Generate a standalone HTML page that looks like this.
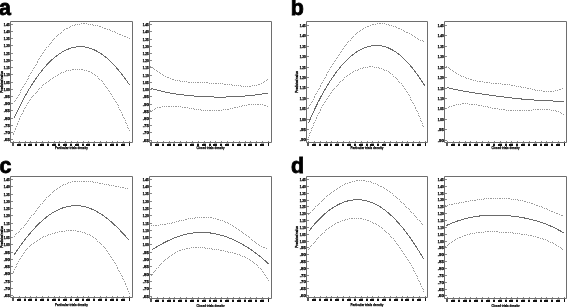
<!DOCTYPE html><html><head><meta charset="utf-8"><style>html,body{margin:0;padding:0;background:#fff;}svg{display:block;filter:grayscale(1);}text{font-family:"Liberation Sans",sans-serif;}.yl{font-size:3.2px;font-weight:bold;fill:#000;stroke:#000;stroke-width:0.25px;}.xl{font-size:3.3px;font-weight:bold;text-anchor:middle;fill:#000;stroke:#000;stroke-width:0.15px;}</style></head><body>
<svg width="567" height="307" viewBox="0 0 567 307">
<rect width="567" height="307" fill="#fff"/>
<text x="-1.10" y="15.40" font-size="21.40" font-weight="bold" fill="#000" stroke="#000" stroke-width="0.80">a</text>
<text x="290.80" y="15.30" font-size="21.40" font-weight="bold" fill="#000" stroke="#000" stroke-width="0.80">b</text>
<text x="-0.60" y="173.30" font-size="21.40" font-weight="bold" fill="#000" stroke="#000" stroke-width="0.80">c</text>
<text x="291.10" y="173.10" font-size="21.40" font-weight="bold" fill="#000" stroke="#000" stroke-width="0.80">d</text>
<g><path d="M10.5 21.5H132.5V142.5H10.5Z" fill="none" stroke="#6e6e6e" stroke-width="1"/><text x="3.80" y="25.60" class="yl" textLength="6.0" lengthAdjust="spacingAndGlyphs">1.45</text><text x="3.80" y="32.60" class="yl" textLength="6.0" lengthAdjust="spacingAndGlyphs">1.40</text><text x="3.80" y="39.60" class="yl" textLength="6.0" lengthAdjust="spacingAndGlyphs">1.35</text><text x="3.80" y="46.60" class="yl" textLength="6.0" lengthAdjust="spacingAndGlyphs">1.30</text><text x="3.80" y="54.60" class="yl" textLength="6.0" lengthAdjust="spacingAndGlyphs">1.25</text><text x="3.80" y="61.60" class="yl" textLength="6.0" lengthAdjust="spacingAndGlyphs">1.20</text><text x="3.80" y="68.60" class="yl" textLength="6.0" lengthAdjust="spacingAndGlyphs">1.15</text><text x="3.80" y="75.60" class="yl" textLength="6.0" lengthAdjust="spacingAndGlyphs">1.10</text><text x="3.80" y="83.60" class="yl" textLength="6.0" lengthAdjust="spacingAndGlyphs">1.05</text><text x="3.80" y="90.60" class="yl" textLength="6.0" lengthAdjust="spacingAndGlyphs">1.00</text><text x="3.80" y="97.60" class="yl" textLength="6.0" lengthAdjust="spacingAndGlyphs">.95</text><text x="3.80" y="104.60" class="yl" textLength="6.0" lengthAdjust="spacingAndGlyphs">.90</text><text x="3.80" y="111.60" class="yl" textLength="6.0" lengthAdjust="spacingAndGlyphs">.85</text><text x="3.80" y="119.60" class="yl" textLength="6.0" lengthAdjust="spacingAndGlyphs">.80</text><text x="3.80" y="126.60" class="yl" textLength="6.0" lengthAdjust="spacingAndGlyphs">.75</text><text x="3.80" y="133.60" class="yl" textLength="6.0" lengthAdjust="spacingAndGlyphs">.70</text><text x="3.80" y="140.60" class="yl" textLength="6.0" lengthAdjust="spacingAndGlyphs">.65</text><path d="M11 24h2v1h-2zM11 31h2v1h-2zM11 38h2v1h-2zM11 45h2v1h-2zM11 53h2v1h-2zM11 60h2v1h-2zM11 67h2v1h-2zM11 74h2v1h-2zM11 82h2v1h-2zM11 89h2v1h-2zM11 96h2v1h-2zM11 103h2v1h-2zM11 110h2v1h-2zM11 118h2v1h-2zM11 125h2v1h-2zM11 132h2v1h-2zM11 139h2v1h-2zM13 142h1v-1h-1zM19 142h1v-1h-1zM25 142h1v-1h-1zM30 142h1v-1h-1zM36 142h1v-1h-1zM42 142h1v-1h-1zM48 142h1v-1h-1zM54 142h1v-1h-1zM59 142h1v-1h-1zM65 142h1v-1h-1zM71 142h1v-1h-1zM77 142h1v-1h-1zM83 142h1v-1h-1zM88 142h1v-1h-1zM94 142h1v-1h-1zM100 142h1v-1h-1zM106 142h1v-1h-1zM112 142h1v-1h-1zM117 142h1v-1h-1zM123 142h1v-1h-1zM129 142h1v-1h-1z" fill="#8a8a8a" shape-rendering="crispEdges"/><path d="M17 144h4v2h-4zM24 144h2v2h-2zM28 144h4v2h-4zM35 144h2v2h-2zM40 144h4v2h-4zM47 144h2v2h-2zM52 144h4v2h-4zM58 144h2v2h-2zM63 144h4v2h-4zM70 144h2v2h-2zM75 144h4v2h-4zM82 144h2v2h-2zM86 144h4v2h-4zM93 144h2v2h-2zM98 144h4v2h-4zM105 144h2v2h-2zM110 144h4v2h-4zM116 144h2v2h-2zM121 144h4v2h-4zM129 143h1v3h-1z" fill="#111111" shape-rendering="crispEdges"/><path d="M12 143h2v3h-2z" fill="#555555" shape-rendering="crispEdges"/><path d="M18 143h3v1h-3zM24 143h2v1h-2zM29 143h3v1h-3zM35 143h2v1h-2zM41 143h3v1h-3zM47 143h2v1h-2zM53 143h3v1h-3zM58 143h2v1h-2zM64 143h3v1h-3zM70 143h2v1h-2zM76 143h3v1h-3zM82 143h2v1h-2zM87 143h3v1h-3zM93 143h2v1h-2zM99 143h3v1h-3zM105 143h2v1h-2zM111 143h3v1h-3zM116 143h2v1h-2zM122 143h3v1h-3z" fill="#aaaaaa" shape-rendering="crispEdges"/><text x="55.0" y="149.4" font-size="3.8" font-weight="bold" fill="#000" stroke="#000" stroke-width="0.25" textLength="33" lengthAdjust="spacingAndGlyphs">Particular trials density</text><text transform="translate(2.5 82.0) rotate(-90)" x="-10.7" y="0" font-size="3.0" font-weight="bold" fill="#000" stroke="#000" stroke-width="0.3" textLength="21.5" lengthAdjust="spacingAndGlyphs">Predicted value</text><path d="M14 101h1v1h-1zM15 100h1v1h-1zM16 98h1v1h-1zM17 97h1v1h-1zM18 95h1v1h-1zM19 94h1v1h-1zM20 92h1v1h-1zM20 90h1v1h-1zM21 89h1v1h-1zM22 87h1v1h-1zM23 86h1v1h-1zM24 84h1v1h-1zM25 83h1v1h-1zM26 81h1v1h-1zM27 79h1v1h-1zM28 78h1v1h-1zM28 76h1v1h-1zM29 75h1v1h-1zM30 73h1v1h-1zM31 72h1v1h-1zM32 70h1v1h-1zM33 68h1v1h-1zM34 67h1v1h-1zM35 65h1v1h-1zM36 64h1v1h-1zM37 62h1v1h-1zM37 61h1v1h-1zM38 59h1v1h-1zM39 58h1v1h-1zM40 56h1v1h-1zM41 55h1v1h-1zM42 53h1v1h-1zM43 52h1v1h-1zM44 50h1v1h-1zM45 49h1v1h-1zM46 47h1v1h-1zM48 46h1v1h-1zM49 44h1v1h-1zM50 43h1v1h-1zM51 42h1v1h-1zM52 40h1v1h-1zM53 39h1v1h-1zM54 38h1v1h-1zM56 36h1v1h-1zM57 35h1v1h-1zM58 34h1v1h-1zM60 33h1v1h-1zM61 32h1v1h-1zM63 30h1v1h-1zM64 29h1v1h-1zM66 28h1v1h-1zM67 28h1v1h-1zM69 27h1v1h-1zM70 26h1v1h-1zM72 25h1v1h-1zM74 25h1v1h-1zM75 24h1v1h-1zM77 24h1v1h-1zM79 24h1v1h-1zM81 23h1v1h-1zM83 23h1v1h-1zM84 23h1v1h-1zM86 23h1v1h-1zM88 24h1v1h-1zM90 24h1v1h-1zM92 24h1v1h-1zM93 25h1v1h-1zM95 25h1v1h-1zM97 25h1v1h-1zM99 26h1v1h-1zM100 26h1v1h-1zM102 27h1v1h-1zM104 28h1v1h-1zM105 28h1v1h-1zM107 29h1v1h-1zM109 29h1v1h-1zM110 30h1v1h-1zM112 31h1v1h-1zM114 31h1v1h-1zM115 32h1v1h-1zM117 33h1v1h-1zM119 34h1v1h-1zM120 34h1v1h-1zM122 35h1v1h-1zM124 36h1v1h-1zM125 36h1v1h-1zM127 37h1v1h-1zM129 38h1v1h-1z" fill="#9a9a9a" shape-rendering="crispEdges"/><path d="M13.90 118.54 14.40 117.44 14.90 116.35 15.40 115.26 15.90 114.19 16.40 113.12 16.90 112.07 17.40 111.02 17.90 109.99 18.40 108.96 18.90 107.94 19.40 106.93 19.90 105.93 20.40 104.95 20.90 103.96 21.40 102.99 21.90 102.03 22.40 101.08 22.90 100.13 23.40 99.20 23.90 98.27 24.40 97.36 24.90 96.45 25.40 95.55 25.90 94.66 26.40 93.77 26.90 92.90 27.40 92.04 27.90 91.18 28.40 90.33 28.90 89.49 29.40 88.66 29.90 87.84 30.40 87.03 30.90 86.22 31.40 85.43 31.90 84.64 32.40 83.86 32.90 83.09 33.40 82.32 33.90 81.57 34.40 80.82 34.90 80.09 35.40 79.36 35.90 78.64 36.40 77.92 36.90 77.22 37.40 76.52 37.90 75.83 38.40 75.15 38.90 74.48 39.40 73.82 39.90 73.16 40.40 72.51 40.90 71.87 41.40 71.24 41.90 70.62 42.40 70.00 42.90 69.39 43.40 68.79 43.90 68.20 44.40 67.62 44.90 67.04 45.40 66.48 45.90 65.92 46.40 65.37 46.90 64.82 47.40 64.29 47.90 63.76 48.40 63.24 48.90 62.73 49.40 62.23 49.90 61.73 50.40 61.25 50.90 60.77 51.40 60.29 51.90 59.83 52.40 59.38 52.90 58.93 53.40 58.49 53.90 58.06 54.40 57.63 54.90 57.22 55.40 56.81 55.90 56.41 56.40 56.02 56.90 55.64 57.40 55.26 57.90 54.89 58.40 54.53 58.90 54.18 59.40 53.84 59.90 53.50 60.40 53.18 60.90 52.86 61.40 52.55 61.90 52.24 62.40 51.95 62.90 51.66 63.40 51.38 63.90 51.11 64.40 50.85 64.90 50.59 65.40 50.34 65.90 50.10 66.40 49.87 66.90 49.65 67.40 49.43 67.90 49.23 68.40 49.03 68.90 48.84 69.40 48.66 69.90 48.48 70.40 48.31 70.90 48.16 71.40 48.01 71.90 47.86 72.40 47.73 72.90 47.60 73.40 47.49 73.90 47.38 74.40 47.28 74.90 47.18 75.40 47.10 75.90 47.02 76.40 46.95 76.90 46.89 77.40 46.84 77.90 46.80 78.40 46.76 78.90 46.73 79.40 46.71 79.90 46.70 80.40 46.70 80.90 46.70 81.40 46.72 81.90 46.74 82.40 46.77 82.90 46.80 83.40 46.85 83.90 46.90 84.40 46.97 84.90 47.04 85.40 47.12 85.90 47.20 86.40 47.30 86.90 47.40 87.40 47.51 87.90 47.63 88.40 47.76 88.90 47.90 89.40 48.04 89.90 48.19 90.40 48.36 90.90 48.52 91.40 48.70 91.90 48.89 92.40 49.08 92.90 49.28 93.40 49.49 93.90 49.71 94.40 49.94 94.90 50.17 95.40 50.41 95.90 50.66 96.40 50.92 96.90 51.19 97.40 51.46 97.90 51.74 98.40 52.04 98.90 52.33 99.40 52.64 99.90 52.96 100.40 53.28 100.90 53.61 101.40 53.95 101.90 54.29 102.40 54.65 102.90 55.01 103.40 55.38 103.90 55.76 104.40 56.15 104.90 56.54 105.40 56.94 105.90 57.35 106.40 57.77 106.90 58.19 107.40 58.63 107.90 59.07 108.40 59.51 108.90 59.97 109.40 60.43 109.90 60.90 110.40 61.38 110.90 61.87 111.40 62.36 111.90 62.86 112.40 63.37 112.90 63.88 113.40 64.40 113.90 64.93 114.40 65.47 114.90 66.02 115.40 66.57 115.90 67.13 116.40 67.69 116.90 68.26 117.40 68.84 117.90 69.43 118.40 70.02 118.90 70.62 119.40 71.23 119.90 71.84 120.40 72.46 120.90 73.09 121.40 73.72 121.90 74.36 122.40 75.01 122.90 75.66 123.40 76.32 123.90 76.99 124.40 77.66 124.90 78.34 125.40 79.02 125.90 79.71 126.40 80.41 126.90 81.11 127.40 81.82 127.90 82.53 128.40 83.25 128.90 83.98 129.40 84.71" fill="none" stroke="#6a6a6a" stroke-width="1" shape-rendering="crispEdges"/><path d="M13 134h1v1h-1zM13 133h1v1h-1zM14 131h1v1h-1zM15 129h1v1h-1zM15 128h1v1h-1zM16 126h1v1h-1zM17 124h1v1h-1zM17 123h1v1h-1zM18 121h1v1h-1zM19 119h1v1h-1zM19 118h1v1h-1zM20 116h1v1h-1zM21 114h1v1h-1zM22 113h1v1h-1zM23 111h1v1h-1zM23 110h1v1h-1zM24 108h1v1h-1zM25 107h1v1h-1zM26 105h1v1h-1zM27 103h1v1h-1zM28 102h1v1h-1zM29 100h1v1h-1zM30 99h1v1h-1zM31 97h1v1h-1zM32 96h1v1h-1zM33 95h1v1h-1zM35 93h1v1h-1zM36 92h1v1h-1zM37 91h1v1h-1zM38 89h1v1h-1zM39 88h1v1h-1zM41 87h1v1h-1zM42 85h1v1h-1zM43 84h1v1h-1zM45 83h1v1h-1zM46 82h1v1h-1zM48 81h1v1h-1zM49 80h1v1h-1zM50 79h1v1h-1zM52 78h1v1h-1zM53 77h1v1h-1zM55 76h1v1h-1zM57 75h1v1h-1zM58 74h1v1h-1zM60 73h1v1h-1zM61 72h1v1h-1zM63 72h1v1h-1zM65 71h1v1h-1zM66 70h1v1h-1zM68 70h1v1h-1zM70 70h1v1h-1zM72 69h1v1h-1zM73 69h1v1h-1zM75 69h1v1h-1zM77 69h1v1h-1zM79 69h1v1h-1zM81 69h1v1h-1zM82 69h1v1h-1zM84 70h1v1h-1zM86 70h1v1h-1zM88 71h1v1h-1zM89 71h1v1h-1zM91 72h1v1h-1zM92 73h1v1h-1zM94 74h1v1h-1zM95 75h1v1h-1zM97 76h1v1h-1zM98 78h1v1h-1zM99 79h1v1h-1zM101 80h1v1h-1zM102 81h1v1h-1zM103 83h1v1h-1zM104 84h1v1h-1zM105 86h1v1h-1zM106 87h1v1h-1zM107 88h1v1h-1zM108 90h1v1h-1zM109 91h1v1h-1zM110 93h1v1h-1zM111 94h1v1h-1zM112 96h1v1h-1zM113 98h1v1h-1zM114 99h1v1h-1zM115 101h1v1h-1zM116 102h1v1h-1zM117 104h1v1h-1zM118 105h1v1h-1zM118 107h1v1h-1zM119 109h1v1h-1zM120 110h1v1h-1zM121 112h1v1h-1zM122 114h1v1h-1zM122 115h1v1h-1zM123 117h1v1h-1zM124 118h1v1h-1zM125 120h1v1h-1zM125 122h1v1h-1zM126 123h1v1h-1zM127 125h1v1h-1zM127 127h1v1h-1zM128 128h1v1h-1zM129 130h1v1h-1z" fill="#9a9a9a" shape-rendering="crispEdges"/></g>
<g><path d="M149.5 21.5H271.5V142.5H149.5Z" fill="none" stroke="#6e6e6e" stroke-width="1"/><text x="142.80" y="25.60" class="yl" textLength="6.0" lengthAdjust="spacingAndGlyphs">1.45</text><text x="142.80" y="32.60" class="yl" textLength="6.0" lengthAdjust="spacingAndGlyphs">1.40</text><text x="142.80" y="40.60" class="yl" textLength="6.0" lengthAdjust="spacingAndGlyphs">1.35</text><text x="142.80" y="47.60" class="yl" textLength="6.0" lengthAdjust="spacingAndGlyphs">1.30</text><text x="142.80" y="54.60" class="yl" textLength="6.0" lengthAdjust="spacingAndGlyphs">1.25</text><text x="142.80" y="61.60" class="yl" textLength="6.0" lengthAdjust="spacingAndGlyphs">1.20</text><text x="142.80" y="68.60" class="yl" textLength="6.0" lengthAdjust="spacingAndGlyphs">1.15</text><text x="142.80" y="76.60" class="yl" textLength="6.0" lengthAdjust="spacingAndGlyphs">1.10</text><text x="142.80" y="83.60" class="yl" textLength="6.0" lengthAdjust="spacingAndGlyphs">1.05</text><text x="142.80" y="90.60" class="yl" textLength="6.0" lengthAdjust="spacingAndGlyphs">1.00</text><text x="142.80" y="97.60" class="yl" textLength="6.0" lengthAdjust="spacingAndGlyphs">.95</text><text x="142.80" y="105.60" class="yl" textLength="6.0" lengthAdjust="spacingAndGlyphs">.90</text><text x="142.80" y="112.60" class="yl" textLength="6.0" lengthAdjust="spacingAndGlyphs">.85</text><text x="142.80" y="119.60" class="yl" textLength="6.0" lengthAdjust="spacingAndGlyphs">.80</text><text x="142.80" y="126.60" class="yl" textLength="6.0" lengthAdjust="spacingAndGlyphs">.75</text><text x="142.80" y="133.60" class="yl" textLength="6.0" lengthAdjust="spacingAndGlyphs">.70</text><text x="142.80" y="141.60" class="yl" textLength="6.0" lengthAdjust="spacingAndGlyphs">.65</text><path d="M150 24h2v1h-2zM150 31h2v1h-2zM150 39h2v1h-2zM150 46h2v1h-2zM150 53h2v1h-2zM150 60h2v1h-2zM150 67h2v1h-2zM150 75h2v1h-2zM150 82h2v1h-2zM150 89h2v1h-2zM150 96h2v1h-2zM150 104h2v1h-2zM150 111h2v1h-2zM150 118h2v1h-2zM150 125h2v1h-2zM150 132h2v1h-2zM150 140h2v1h-2zM151 142h1v-1h-1zM157 142h1v-1h-1zM163 142h1v-1h-1zM169 142h1v-1h-1zM174 142h1v-1h-1zM180 142h1v-1h-1zM186 142h1v-1h-1zM192 142h1v-1h-1zM198 142h1v-1h-1zM204 142h1v-1h-1zM210 142h1v-1h-1zM215 142h1v-1h-1zM221 142h1v-1h-1zM227 142h1v-1h-1zM233 142h1v-1h-1zM239 142h1v-1h-1zM245 142h1v-1h-1zM250 142h1v-1h-1zM256 142h1v-1h-1zM262 142h1v-1h-1zM268 142h1v-1h-1z" fill="#8a8a8a" shape-rendering="crispEdges"/><path d="M155 144h4v2h-4zM162 144h2v2h-2zM167 144h4v2h-4zM173 144h2v2h-2zM178 144h4v2h-4zM185 144h2v2h-2zM190 144h4v2h-4zM197 144h2v2h-2zM202 144h4v2h-4zM209 144h2v2h-2zM213 144h4v2h-4zM220 144h2v2h-2zM225 144h4v2h-4zM232 144h2v2h-2zM237 144h4v2h-4zM244 144h2v2h-2zM248 144h4v2h-4zM255 144h2v2h-2zM260 144h4v2h-4zM268 143h1v3h-1z" fill="#111111" shape-rendering="crispEdges"/><path d="M150 143h2v3h-2z" fill="#555555" shape-rendering="crispEdges"/><path d="M156 143h3v1h-3zM162 143h2v1h-2zM168 143h3v1h-3zM173 143h2v1h-2zM179 143h3v1h-3zM185 143h2v1h-2zM191 143h3v1h-3zM197 143h2v1h-2zM203 143h3v1h-3zM209 143h2v1h-2zM214 143h3v1h-3zM220 143h2v1h-2zM226 143h3v1h-3zM232 143h2v1h-2zM238 143h3v1h-3zM244 143h2v1h-2zM249 143h3v1h-3zM255 143h2v1h-2zM261 143h3v1h-3z" fill="#aaaaaa" shape-rendering="crispEdges"/><text x="196.5" y="149.4" font-size="3.8" font-weight="bold" fill="#000" stroke="#000" stroke-width="0.25" textLength="28" lengthAdjust="spacingAndGlyphs">Closed trials density</text><path d="M150 66h1v1h-1zM152 67h1v1h-1zM153 68h1v1h-1zM154 69h1v1h-1zM156 70h1v1h-1zM157 71h1v1h-1zM159 72h1v1h-1zM160 73h1v1h-1zM162 74h1v1h-1zM163 75h1v1h-1zM165 76h1v1h-1zM167 77h1v1h-1zM168 77h1v1h-1zM170 78h1v1h-1zM172 79h1v1h-1zM173 79h1v1h-1zM175 80h1v1h-1zM177 80h1v1h-1zM179 80h1v1h-1zM180 81h1v1h-1zM182 81h1v1h-1zM184 81h1v1h-1zM186 81h1v1h-1zM188 82h1v1h-1zM189 82h1v1h-1zM191 82h1v1h-1zM193 82h1v1h-1zM195 82h1v1h-1zM197 82h1v1h-1zM198 82h1v1h-1zM200 82h1v1h-1zM202 82h1v1h-1zM204 82h1v1h-1zM206 82h1v1h-1zM207 82h1v1h-1zM209 83h1v1h-1zM211 83h1v1h-1zM213 83h1v1h-1zM215 83h1v1h-1zM216 83h1v1h-1zM218 83h1v1h-1zM220 83h1v1h-1zM222 83h1v1h-1zM224 84h1v1h-1zM225 84h1v1h-1zM227 84h1v1h-1zM229 84h1v1h-1zM231 84h1v1h-1zM232 85h1v1h-1zM234 85h1v1h-1zM236 85h1v1h-1zM238 85h1v1h-1zM240 85h1v1h-1zM241 86h1v1h-1zM243 86h1v1h-1zM245 86h1v1h-1zM247 86h1v1h-1zM249 86h1v1h-1zM250 86h1v1h-1zM252 85h1v1h-1zM254 85h1v1h-1zM256 85h1v1h-1zM258 84h1v1h-1zM259 84h1v1h-1zM261 83h1v1h-1zM263 82h1v1h-1zM264 81h1v1h-1zM266 80h1v1h-1zM267 79h1v1h-1z" fill="#9a9a9a" shape-rendering="crispEdges"/><path d="M150.80 88.20 151.30 88.36 151.80 88.52 152.30 88.67 152.80 88.82 153.30 88.98 153.80 89.12 154.30 89.27 154.80 89.42 155.30 89.56 155.80 89.70 156.30 89.84 156.80 89.97 157.30 90.11 157.80 90.24 158.30 90.37 158.80 90.50 159.30 90.63 159.80 90.75 160.30 90.88 160.80 91.00 161.30 91.12 161.80 91.24 162.30 91.35 162.80 91.47 163.30 91.58 163.80 91.69 164.30 91.80 164.80 91.91 165.30 92.02 165.80 92.12 166.30 92.22 166.80 92.33 167.30 92.43 167.80 92.53 168.30 92.62 168.80 92.72 169.30 92.81 169.80 92.91 170.30 93.00 170.80 93.09 171.30 93.18 171.80 93.27 172.30 93.35 172.80 93.44 173.30 93.52 173.80 93.60 174.30 93.69 174.80 93.77 175.30 93.84 175.80 93.92 176.30 94.00 176.80 94.07 177.30 94.15 177.80 94.22 178.30 94.29 178.80 94.36 179.30 94.43 179.80 94.50 180.30 94.57 180.80 94.63 181.30 94.70 181.80 94.76 182.30 94.83 182.80 94.89 183.30 94.95 183.80 95.01 184.30 95.07 184.80 95.12 185.30 95.18 185.80 95.24 186.30 95.29 186.80 95.35 187.30 95.40 187.80 95.45 188.30 95.50 188.80 95.55 189.30 95.60 189.80 95.65 190.30 95.70 190.80 95.74 191.30 95.79 191.80 95.83 192.30 95.88 192.80 95.92 193.30 95.96 193.80 96.01 194.30 96.05 194.80 96.09 195.30 96.12 195.80 96.16 196.30 96.20 196.80 96.24 197.30 96.27 197.80 96.31 198.30 96.34 198.80 96.37 199.30 96.41 199.80 96.44 200.30 96.47 200.80 96.50 201.30 96.53 201.80 96.55 202.30 96.58 202.80 96.61 203.30 96.63 203.80 96.66 204.30 96.68 204.80 96.71 205.30 96.73 205.80 96.75 206.30 96.77 206.80 96.80 207.30 96.81 207.80 96.83 208.30 96.85 208.80 96.87 209.30 96.89 209.80 96.90 210.30 96.92 210.80 96.93 211.30 96.95 211.80 96.96 212.30 96.97 212.80 96.98 213.30 96.99 213.80 97.00 214.30 97.01 214.80 97.02 215.30 97.03 215.80 97.04 216.30 97.04 216.80 97.05 217.30 97.05 217.80 97.06 218.30 97.06 218.80 97.06 219.30 97.06 219.80 97.06 220.30 97.06 220.80 97.06 221.30 97.06 221.80 97.06 222.30 97.06 222.80 97.05 223.30 97.05 223.80 97.04 224.30 97.04 224.80 97.03 225.30 97.02 225.80 97.01 226.30 97.00 226.80 96.99 227.30 96.98 227.80 96.97 228.30 96.96 228.80 96.94 229.30 96.93 229.80 96.92 230.30 96.90 230.80 96.88 231.30 96.87 231.80 96.85 232.30 96.83 232.80 96.81 233.30 96.79 233.80 96.76 234.30 96.74 234.80 96.72 235.30 96.69 235.80 96.67 236.30 96.64 236.80 96.62 237.30 96.59 237.80 96.56 238.30 96.53 238.80 96.50 239.30 96.47 239.80 96.44 240.30 96.40 240.80 96.37 241.30 96.33 241.80 96.30 242.30 96.26 242.80 96.22 243.30 96.18 243.80 96.14 244.30 96.10 244.80 96.06 245.30 96.02 245.80 95.98 246.30 95.93 246.80 95.89 247.30 95.84 247.80 95.79 248.30 95.74 248.80 95.69 249.30 95.64 249.80 95.59 250.30 95.54 250.80 95.49 251.30 95.43 251.80 95.38 252.30 95.32 252.80 95.27 253.30 95.21 253.80 95.15 254.30 95.09 254.80 95.03 255.30 94.96 255.80 94.90 256.30 94.84 256.80 94.77 257.30 94.71 257.80 94.64 258.30 94.57 258.80 94.50 259.30 94.43 259.80 94.36 260.30 94.28 260.80 94.21 261.30 94.14 261.80 94.06 262.30 93.98 262.80 93.91 263.30 93.83 263.80 93.75 264.30 93.66 264.80 93.58 265.30 93.50 265.80 93.41 266.30 93.33 266.80 93.24 267.30 93.15 267.80 93.07 268.30 92.98" fill="none" stroke="#6a6a6a" stroke-width="1" shape-rendering="crispEdges"/><path d="M150 110h1v1h-1zM152 110h1v1h-1zM154 109h1v1h-1zM155 108h1v1h-1zM157 107h1v1h-1zM159 107h1v1h-1zM160 107h1v1h-1zM162 106h1v1h-1zM164 106h1v1h-1zM166 106h1v1h-1zM168 106h1v1h-1zM169 106h1v1h-1zM171 106h1v1h-1zM173 106h1v1h-1zM175 106h1v1h-1zM176 106h1v1h-1zM178 106h1v1h-1zM180 106h1v1h-1zM182 107h1v1h-1zM184 107h1v1h-1zM185 107h1v1h-1zM187 107h1v1h-1zM189 108h1v1h-1zM191 108h1v1h-1zM193 108h1v1h-1zM194 109h1v1h-1zM196 109h1v1h-1zM198 109h1v1h-1zM200 109h1v1h-1zM201 110h1v1h-1zM203 110h1v1h-1zM205 110h1v1h-1zM207 110h1v1h-1zM209 110h1v1h-1zM210 110h1v1h-1zM212 110h1v1h-1zM214 110h1v1h-1zM216 110h1v1h-1zM218 110h1v1h-1zM219 110h1v1h-1zM221 110h1v1h-1zM223 109h1v1h-1zM225 109h1v1h-1zM227 109h1v1h-1zM228 109h1v1h-1zM230 108h1v1h-1zM232 108h1v1h-1zM234 107h1v1h-1zM235 107h1v1h-1zM237 107h1v1h-1zM239 106h1v1h-1zM241 106h1v1h-1zM242 105h1v1h-1zM244 105h1v1h-1zM246 105h1v1h-1zM248 104h1v1h-1zM249 104h1v1h-1zM251 104h1v1h-1zM253 104h1v1h-1zM255 104h1v1h-1zM257 104h1v1h-1zM258 104h1v1h-1zM260 104h1v1h-1zM262 104h1v1h-1zM264 105h1v1h-1zM265 105h1v1h-1zM267 106h1v1h-1z" fill="#9a9a9a" shape-rendering="crispEdges"/></g>
<g><path d="M306.5 21.5H427.5V142.5H306.5Z" fill="none" stroke="#6e6e6e" stroke-width="1"/><text x="299.80" y="26.60" class="yl" textLength="6.0" lengthAdjust="spacingAndGlyphs">1.45</text><text x="299.80" y="36.60" class="yl" textLength="6.0" lengthAdjust="spacingAndGlyphs">1.40</text><text x="299.80" y="47.60" class="yl" textLength="6.0" lengthAdjust="spacingAndGlyphs">1.35</text><text x="299.80" y="57.60" class="yl" textLength="6.0" lengthAdjust="spacingAndGlyphs">1.30</text><text x="299.80" y="68.60" class="yl" textLength="6.0" lengthAdjust="spacingAndGlyphs">1.25</text><text x="299.80" y="78.60" class="yl" textLength="6.0" lengthAdjust="spacingAndGlyphs">1.20</text><text x="299.80" y="88.60" class="yl" textLength="6.0" lengthAdjust="spacingAndGlyphs">1.15</text><text x="299.80" y="99.60" class="yl" textLength="6.0" lengthAdjust="spacingAndGlyphs">1.10</text><text x="299.80" y="109.60" class="yl" textLength="6.0" lengthAdjust="spacingAndGlyphs">1.05</text><text x="299.80" y="120.60" class="yl" textLength="6.0" lengthAdjust="spacingAndGlyphs">1.00</text><text x="299.80" y="130.60" class="yl" textLength="6.0" lengthAdjust="spacingAndGlyphs">.95</text><text x="299.80" y="140.60" class="yl" textLength="6.0" lengthAdjust="spacingAndGlyphs">.90</text><path d="M307 25h2v1h-2zM307 35h2v1h-2zM307 46h2v1h-2zM307 56h2v1h-2zM307 67h2v1h-2zM307 77h2v1h-2zM307 87h2v1h-2zM307 98h2v1h-2zM307 108h2v1h-2zM307 119h2v1h-2zM307 129h2v1h-2zM307 139h2v1h-2zM308 142h1v-1h-1zM314 142h1v-1h-1zM320 142h1v-1h-1zM326 142h1v-1h-1zM331 142h1v-1h-1zM337 142h1v-1h-1zM343 142h1v-1h-1zM349 142h1v-1h-1zM355 142h1v-1h-1zM361 142h1v-1h-1zM367 142h1v-1h-1zM372 142h1v-1h-1zM378 142h1v-1h-1zM384 142h1v-1h-1zM390 142h1v-1h-1zM396 142h1v-1h-1zM402 142h1v-1h-1zM407 142h1v-1h-1zM413 142h1v-1h-1zM419 142h1v-1h-1zM425 142h1v-1h-1z" fill="#8a8a8a" shape-rendering="crispEdges"/><path d="M312 144h4v2h-4zM319 144h2v2h-2zM324 144h4v2h-4zM330 144h2v2h-2zM335 144h4v2h-4zM342 144h2v2h-2zM347 144h4v2h-4zM354 144h2v2h-2zM359 144h4v2h-4zM366 144h2v2h-2zM370 144h4v2h-4zM377 144h2v2h-2zM382 144h4v2h-4zM389 144h2v2h-2zM394 144h4v2h-4zM401 144h2v2h-2zM405 144h4v2h-4zM412 144h2v2h-2zM417 144h4v2h-4zM425 143h1v3h-1z" fill="#111111" shape-rendering="crispEdges"/><path d="M307 143h2v3h-2z" fill="#555555" shape-rendering="crispEdges"/><path d="M313 143h3v1h-3zM319 143h2v1h-2zM325 143h3v1h-3zM330 143h2v1h-2zM336 143h3v1h-3zM342 143h2v1h-2zM348 143h3v1h-3zM354 143h2v1h-2zM360 143h3v1h-3zM366 143h2v1h-2zM371 143h3v1h-3zM377 143h2v1h-2zM383 143h3v1h-3zM389 143h2v1h-2zM395 143h3v1h-3zM401 143h2v1h-2zM406 143h3v1h-3zM412 143h2v1h-2zM418 143h3v1h-3z" fill="#aaaaaa" shape-rendering="crispEdges"/><text x="350.5" y="149.4" font-size="3.8" font-weight="bold" fill="#000" stroke="#000" stroke-width="0.25" textLength="33" lengthAdjust="spacingAndGlyphs">Particular trials density</text><text transform="translate(297.5 82.0) rotate(-90)" x="-10.7" y="0" font-size="3.0" font-weight="bold" fill="#000" stroke="#000" stroke-width="0.3" textLength="21.5" lengthAdjust="spacingAndGlyphs">Predicted value</text><path d="M308 108h1v1h-1zM308 107h1v1h-1zM309 105h1v1h-1zM310 104h1v1h-1zM311 102h1v1h-1zM312 101h1v1h-1zM313 99h1v1h-1zM314 97h1v1h-1zM314 96h1v1h-1zM315 94h1v1h-1zM316 93h1v1h-1zM317 91h1v1h-1zM318 89h1v1h-1zM319 88h1v1h-1zM320 86h1v1h-1zM320 85h1v1h-1zM321 83h1v1h-1zM322 82h1v1h-1zM323 80h1v1h-1zM324 78h1v1h-1zM325 77h1v1h-1zM326 75h1v1h-1zM326 74h1v1h-1zM327 72h1v1h-1zM328 71h1v1h-1zM329 69h1v1h-1zM330 67h1v1h-1zM331 66h1v1h-1zM332 64h1v1h-1zM333 63h1v1h-1zM334 61h1v1h-1zM335 60h1v1h-1zM336 58h1v1h-1zM337 57h1v1h-1zM338 55h1v1h-1zM339 54h1v1h-1zM340 52h1v1h-1zM341 51h1v1h-1zM342 49h1v1h-1zM343 48h1v1h-1zM344 46h1v1h-1zM345 45h1v1h-1zM346 44h1v1h-1zM347 42h1v1h-1zM348 41h1v1h-1zM350 40h1v1h-1zM351 38h1v1h-1zM352 37h1v1h-1zM353 36h1v1h-1zM355 34h1v1h-1zM356 33h1v1h-1zM357 32h1v1h-1zM359 31h1v1h-1zM360 30h1v1h-1zM362 29h1v1h-1zM363 28h1v1h-1zM365 27h1v1h-1zM367 26h1v1h-1zM368 26h1v1h-1zM370 25h1v1h-1zM372 24h1v1h-1zM373 24h1v1h-1zM375 24h1v1h-1zM377 23h1v1h-1zM379 23h1v1h-1zM380 23h1v1h-1zM382 23h1v1h-1zM384 23h1v1h-1zM386 24h1v1h-1zM388 24h1v1h-1zM389 25h1v1h-1zM391 25h1v1h-1zM393 26h1v1h-1zM395 26h1v1h-1zM396 27h1v1h-1zM398 28h1v1h-1zM399 28h1v1h-1zM401 29h1v1h-1zM403 30h1v1h-1zM404 31h1v1h-1zM406 32h1v1h-1zM407 32h1v1h-1zM409 33h1v1h-1zM411 34h1v1h-1zM412 35h1v1h-1zM414 36h1v1h-1zM415 37h1v1h-1zM417 38h1v1h-1zM418 39h1v1h-1zM420 40h1v1h-1zM422 40h1v1h-1zM423 41h1v1h-1z" fill="#9a9a9a" shape-rendering="crispEdges"/><path d="M308.60 122.78 309.10 121.61 309.60 120.44 310.10 119.29 310.60 118.14 311.10 117.01 311.60 115.89 312.10 114.77 312.60 113.67 313.10 112.58 313.60 111.49 314.10 110.42 314.60 109.36 315.10 108.31 315.60 107.26 316.10 106.23 316.60 105.21 317.10 104.20 317.60 103.19 318.10 102.20 318.60 101.21 319.10 100.24 319.60 99.27 320.10 98.32 320.60 97.37 321.10 96.43 321.60 95.51 322.10 94.59 322.60 93.68 323.10 92.78 323.60 91.89 324.10 91.00 324.60 90.13 325.10 89.27 325.60 88.41 326.10 87.57 326.60 86.73 327.10 85.90 327.60 85.08 328.10 84.27 328.60 83.47 329.10 82.68 329.60 81.89 330.10 81.12 330.60 80.35 331.10 79.59 331.60 78.84 332.10 78.10 332.60 77.37 333.10 76.64 333.60 75.93 334.10 75.22 334.60 74.52 335.10 73.83 335.60 73.15 336.10 72.48 336.60 71.81 337.10 71.16 337.60 70.51 338.10 69.87 338.60 69.24 339.10 68.61 339.60 68.00 340.10 67.39 340.60 66.79 341.10 66.21 341.60 65.62 342.10 65.05 342.60 64.49 343.10 63.93 343.60 63.38 344.10 62.84 344.60 62.31 345.10 61.78 345.60 61.27 346.10 60.76 346.60 60.26 347.10 59.77 347.60 59.29 348.10 58.82 348.60 58.35 349.10 57.89 349.60 57.44 350.10 57.00 350.60 56.57 351.10 56.14 351.60 55.73 352.10 55.32 352.60 54.92 353.10 54.52 353.60 54.14 354.10 53.76 354.60 53.40 355.10 53.04 355.60 52.69 356.10 52.34 356.60 52.01 357.10 51.68 357.60 51.36 358.10 51.05 358.60 50.75 359.10 50.46 359.60 50.17 360.10 49.90 360.60 49.63 361.10 49.37 361.60 49.12 362.10 48.87 362.60 48.64 363.10 48.41 363.60 48.19 364.10 47.98 364.60 47.78 365.10 47.59 365.60 47.40 366.10 47.22 366.60 47.06 367.10 46.90 367.60 46.75 368.10 46.60 368.60 46.47 369.10 46.34 369.60 46.22 370.10 46.11 370.60 46.01 371.10 45.92 371.60 45.84 372.10 45.76 372.60 45.69 373.10 45.63 373.60 45.58 374.10 45.54 374.60 45.51 375.10 45.49 375.60 45.47 376.10 45.46 376.60 45.46 377.10 45.47 377.60 45.49 378.10 45.52 378.60 45.56 379.10 45.60 379.60 45.65 380.10 45.71 380.60 45.78 381.10 45.86 381.60 45.95 382.10 46.05 382.60 46.15 383.10 46.26 383.60 46.39 384.10 46.52 384.60 46.66 385.10 46.80 385.60 46.96 386.10 47.13 386.60 47.30 387.10 47.48 387.60 47.68 388.10 47.88 388.60 48.08 389.10 48.30 389.60 48.53 390.10 48.76 390.60 49.01 391.10 49.26 391.60 49.52 392.10 49.79 392.60 50.07 393.10 50.36 393.60 50.65 394.10 50.96 394.60 51.27 395.10 51.59 395.60 51.93 396.10 52.27 396.60 52.61 397.10 52.97 397.60 53.34 398.10 53.71 398.60 54.09 399.10 54.49 399.60 54.89 400.10 55.30 400.60 55.71 401.10 56.14 401.60 56.57 402.10 57.02 402.60 57.47 403.10 57.93 403.60 58.40 404.10 58.88 404.60 59.36 405.10 59.86 405.60 60.36 406.10 60.87 406.60 61.39 407.10 61.92 407.60 62.46 408.10 63.00 408.60 63.56 409.10 64.12 409.60 64.69 410.10 65.27 410.60 65.85 411.10 66.45 411.60 67.05 412.10 67.66 412.60 68.28 413.10 68.91 413.60 69.55 414.10 70.19 414.60 70.84 415.10 71.50 415.60 72.17 416.10 72.85 416.60 73.53 417.10 74.22 417.60 74.92 418.10 75.63 418.60 76.34 419.10 77.06 419.60 77.79 420.10 78.53 420.60 79.28 421.10 80.03 421.60 80.79 422.10 81.56 422.60 82.33 423.10 83.12 423.60 83.91 424.10 84.70 424.60 85.51" fill="none" stroke="#6a6a6a" stroke-width="1" shape-rendering="crispEdges"/><path d="M308 137h1v1h-1zM309 135h1v1h-1zM309 133h1v1h-1zM310 132h1v1h-1zM311 130h1v1h-1zM311 128h1v1h-1zM312 127h1v1h-1zM313 125h1v1h-1zM313 123h1v1h-1zM314 122h1v1h-1zM315 120h1v1h-1zM316 118h1v1h-1zM316 117h1v1h-1zM317 115h1v1h-1zM318 113h1v1h-1zM319 112h1v1h-1zM320 110h1v1h-1zM320 109h1v1h-1zM321 107h1v1h-1zM322 105h1v1h-1zM323 104h1v1h-1zM324 102h1v1h-1zM325 101h1v1h-1zM326 99h1v1h-1zM327 98h1v1h-1zM328 96h1v1h-1zM329 95h1v1h-1zM330 93h1v1h-1zM331 92h1v1h-1zM332 90h1v1h-1zM333 89h1v1h-1zM334 88h1v1h-1zM336 86h1v1h-1zM337 85h1v1h-1zM338 84h1v1h-1zM339 82h1v1h-1zM340 81h1v1h-1zM342 80h1v1h-1zM343 79h1v1h-1zM344 77h1v1h-1zM346 76h1v1h-1zM347 75h1v1h-1zM349 74h1v1h-1zM350 73h1v1h-1zM352 72h1v1h-1zM353 71h1v1h-1zM355 70h1v1h-1zM357 70h1v1h-1zM358 69h1v1h-1zM360 68h1v1h-1zM362 68h1v1h-1zM363 67h1v1h-1zM365 67h1v1h-1zM367 67h1v1h-1zM369 66h1v1h-1zM370 66h1v1h-1zM372 66h1v1h-1zM374 67h1v1h-1zM376 67h1v1h-1zM378 67h1v1h-1zM379 68h1v1h-1zM381 68h1v1h-1zM383 69h1v1h-1zM384 70h1v1h-1zM386 70h1v1h-1zM388 71h1v1h-1zM389 72h1v1h-1zM390 73h1v1h-1zM392 74h1v1h-1zM393 76h1v1h-1zM395 77h1v1h-1zM396 78h1v1h-1zM397 79h1v1h-1zM398 81h1v1h-1zM399 82h1v1h-1zM401 83h1v1h-1zM402 85h1v1h-1zM403 86h1v1h-1zM404 88h1v1h-1zM405 89h1v1h-1zM406 91h1v1h-1zM407 92h1v1h-1zM408 94h1v1h-1zM409 95h1v1h-1zM410 97h1v1h-1zM410 99h1v1h-1zM411 100h1v1h-1zM412 102h1v1h-1zM413 103h1v1h-1zM414 105h1v1h-1zM415 107h1v1h-1zM415 108h1v1h-1zM416 110h1v1h-1zM417 111h1v1h-1zM418 113h1v1h-1zM418 115h1v1h-1zM419 116h1v1h-1zM420 118h1v1h-1zM420 120h1v1h-1zM421 121h1v1h-1zM422 123h1v1h-1zM422 125h1v1h-1zM423 126h1v1h-1z" fill="#9a9a9a" shape-rendering="crispEdges"/></g>
<g><path d="M444.5 21.5H566.5V142.5H444.5Z" fill="none" stroke="#6e6e6e" stroke-width="1"/><text x="437.80" y="26.60" class="yl" textLength="6.0" lengthAdjust="spacingAndGlyphs">1.45</text><text x="437.80" y="36.60" class="yl" textLength="6.0" lengthAdjust="spacingAndGlyphs">1.40</text><text x="437.80" y="47.60" class="yl" textLength="6.0" lengthAdjust="spacingAndGlyphs">1.35</text><text x="437.80" y="57.60" class="yl" textLength="6.0" lengthAdjust="spacingAndGlyphs">1.30</text><text x="437.80" y="68.60" class="yl" textLength="6.0" lengthAdjust="spacingAndGlyphs">1.25</text><text x="437.80" y="78.60" class="yl" textLength="6.0" lengthAdjust="spacingAndGlyphs">1.20</text><text x="437.80" y="89.60" class="yl" textLength="6.0" lengthAdjust="spacingAndGlyphs">1.15</text><text x="437.80" y="99.60" class="yl" textLength="6.0" lengthAdjust="spacingAndGlyphs">1.10</text><text x="437.80" y="109.60" class="yl" textLength="6.0" lengthAdjust="spacingAndGlyphs">1.05</text><text x="437.80" y="120.60" class="yl" textLength="6.0" lengthAdjust="spacingAndGlyphs">1.00</text><text x="437.80" y="130.60" class="yl" textLength="6.0" lengthAdjust="spacingAndGlyphs">.95</text><text x="437.80" y="141.60" class="yl" textLength="6.0" lengthAdjust="spacingAndGlyphs">.90</text><path d="M445 25h2v1h-2zM445 35h2v1h-2zM445 46h2v1h-2zM445 56h2v1h-2zM445 67h2v1h-2zM445 77h2v1h-2zM445 88h2v1h-2zM445 98h2v1h-2zM445 108h2v1h-2zM445 119h2v1h-2zM445 129h2v1h-2zM445 140h2v1h-2zM447 142h1v-1h-1zM453 142h1v-1h-1zM459 142h1v-1h-1zM465 142h1v-1h-1zM470 142h1v-1h-1zM476 142h1v-1h-1zM482 142h1v-1h-1zM488 142h1v-1h-1zM494 142h1v-1h-1zM500 142h1v-1h-1zM506 142h1v-1h-1zM511 142h1v-1h-1zM517 142h1v-1h-1zM523 142h1v-1h-1zM529 142h1v-1h-1zM535 142h1v-1h-1zM541 142h1v-1h-1zM546 142h1v-1h-1zM552 142h1v-1h-1zM558 142h1v-1h-1zM564 142h1v-1h-1z" fill="#8a8a8a" shape-rendering="crispEdges"/><path d="M451 144h4v2h-4zM458 144h2v2h-2zM463 144h4v2h-4zM469 144h2v2h-2zM474 144h4v2h-4zM481 144h2v2h-2zM486 144h4v2h-4zM493 144h2v2h-2zM498 144h4v2h-4zM505 144h2v2h-2zM509 144h4v2h-4zM516 144h2v2h-2zM521 144h4v2h-4zM528 144h2v2h-2zM533 144h4v2h-4zM540 144h2v2h-2zM544 144h4v2h-4zM551 144h2v2h-2zM556 144h4v2h-4zM564 143h1v3h-1z" fill="#111111" shape-rendering="crispEdges"/><path d="M446 143h2v3h-2z" fill="#555555" shape-rendering="crispEdges"/><path d="M452 143h3v1h-3zM458 143h2v1h-2zM464 143h3v1h-3zM469 143h2v1h-2zM475 143h3v1h-3zM481 143h2v1h-2zM487 143h3v1h-3zM493 143h2v1h-2zM499 143h3v1h-3zM505 143h2v1h-2zM510 143h3v1h-3zM516 143h2v1h-2zM522 143h3v1h-3zM528 143h2v1h-2zM534 143h3v1h-3zM540 143h2v1h-2zM545 143h3v1h-3zM551 143h2v1h-2zM557 143h3v1h-3z" fill="#aaaaaa" shape-rendering="crispEdges"/><text x="491.5" y="149.4" font-size="3.8" font-weight="bold" fill="#000" stroke="#000" stroke-width="0.25" textLength="28" lengthAdjust="spacingAndGlyphs">Closed trials density</text><path d="M446 66h1v1h-1zM448 67h1v1h-1zM449 68h1v1h-1zM450 69h1v1h-1zM452 70h1v1h-1zM453 71h1v1h-1zM455 72h1v1h-1zM456 73h1v1h-1zM458 74h1v1h-1zM460 75h1v1h-1zM461 76h1v1h-1zM463 76h1v1h-1zM465 77h1v1h-1zM466 78h1v1h-1zM468 78h1v1h-1zM470 79h1v1h-1zM471 79h1v1h-1zM473 80h1v1h-1zM475 80h1v1h-1zM477 81h1v1h-1zM479 81h1v1h-1zM480 81h1v1h-1zM482 81h1v1h-1zM484 82h1v1h-1zM486 82h1v1h-1zM487 82h1v1h-1zM489 82h1v1h-1zM491 83h1v1h-1zM493 83h1v1h-1zM495 83h1v1h-1zM496 83h1v1h-1zM498 83h1v1h-1zM500 83h1v1h-1zM502 84h1v1h-1zM504 84h1v1h-1zM505 84h1v1h-1zM507 84h1v1h-1zM509 84h1v1h-1zM511 85h1v1h-1zM512 85h1v1h-1zM514 85h1v1h-1zM516 86h1v1h-1zM518 86h1v1h-1zM520 86h1v1h-1zM521 87h1v1h-1zM523 87h1v1h-1zM525 87h1v1h-1zM527 88h1v1h-1zM528 88h1v1h-1zM530 88h1v1h-1zM532 89h1v1h-1zM534 89h1v1h-1zM535 90h1v1h-1zM537 90h1v1h-1zM539 90h1v1h-1zM541 90h1v1h-1zM543 91h1v1h-1zM544 91h1v1h-1zM546 91h1v1h-1zM548 91h1v1h-1zM550 91h1v1h-1zM551 91h1v1h-1zM553 91h1v1h-1zM555 90h1v1h-1zM557 90h1v1h-1zM559 89h1v1h-1zM560 89h1v1h-1zM562 88h1v1h-1z" fill="#9a9a9a" shape-rendering="crispEdges"/><path d="M446.70 87.45 447.20 87.59 447.70 87.72 448.20 87.86 448.70 87.99 449.20 88.12 449.70 88.24 450.20 88.37 450.70 88.49 451.20 88.61 451.70 88.73 452.20 88.85 452.70 88.97 453.20 89.08 453.70 89.19 454.20 89.30 454.70 89.41 455.20 89.52 455.70 89.63 456.20 89.73 456.70 89.84 457.20 89.94 457.70 90.04 458.20 90.14 458.69 90.24 459.19 90.34 459.69 90.43 460.19 90.53 460.69 90.62 461.19 90.71 461.69 90.81 462.19 90.90 462.69 90.99 463.19 91.08 463.69 91.17 464.19 91.25 464.69 91.34 465.19 91.43 465.69 91.51 466.19 91.60 466.69 91.68 467.19 91.76 467.69 91.85 468.19 91.93 468.69 92.01 469.19 92.09 469.69 92.17 470.19 92.25 470.69 92.33 471.19 92.41 471.69 92.49 472.19 92.57 472.69 92.65 473.19 92.72 473.69 92.80 474.19 92.88 474.69 92.95 475.19 93.03 475.69 93.10 476.19 93.18 476.69 93.25 477.19 93.33 477.69 93.40 478.19 93.48 478.69 93.55 479.19 93.62 479.69 93.70 480.19 93.77 480.69 93.84 481.19 93.92 481.69 93.99 482.18 94.06 482.68 94.13 483.18 94.20 483.68 94.28 484.18 94.35 484.68 94.42 485.18 94.49 485.68 94.56 486.18 94.63 486.68 94.70 487.18 94.77 487.68 94.84 488.18 94.91 488.68 94.98 489.18 95.05 489.68 95.12 490.18 95.19 490.68 95.26 491.18 95.33 491.68 95.40 492.18 95.47 492.68 95.54 493.18 95.60 493.68 95.67 494.18 95.74 494.68 95.81 495.18 95.88 495.68 95.94 496.18 96.01 496.68 96.08 497.18 96.14 497.68 96.21 498.18 96.28 498.68 96.34 499.18 96.41 499.68 96.48 500.18 96.54 500.68 96.61 501.18 96.67 501.68 96.74 502.18 96.80 502.68 96.86 503.18 96.93 503.68 96.99 504.18 97.05 504.68 97.12 505.18 97.18 505.67 97.24 506.17 97.30 506.67 97.37 507.17 97.43 507.67 97.49 508.17 97.55 508.67 97.61 509.17 97.67 509.67 97.73 510.17 97.79 510.67 97.85 511.17 97.91 511.67 97.96 512.17 98.02 512.67 98.08 513.17 98.13 513.67 98.19 514.17 98.25 514.67 98.30 515.17 98.36 515.67 98.41 516.17 98.46 516.67 98.52 517.17 98.57 517.67 98.62 518.17 98.68 518.67 98.73 519.17 98.78 519.67 98.83 520.17 98.88 520.67 98.93 521.17 98.98 521.67 99.02 522.17 99.07 522.67 99.12 523.17 99.17 523.67 99.21 524.17 99.26 524.67 99.30 525.17 99.35 525.67 99.39 526.17 99.43 526.67 99.48 527.17 99.52 527.67 99.56 528.17 99.60 528.67 99.64 529.16 99.68 529.66 99.72 530.16 99.76 530.66 99.80 531.16 99.83 531.66 99.87 532.16 99.91 532.66 99.94 533.16 99.98 533.66 100.01 534.16 100.05 534.66 100.08 535.16 100.11 535.66 100.15 536.16 100.18 536.66 100.21 537.16 100.24 537.66 100.27 538.16 100.30 538.66 100.33 539.16 100.36 539.66 100.39 540.16 100.41 540.66 100.44 541.16 100.47 541.66 100.50 542.16 100.52 542.66 100.55 543.16 100.57 543.66 100.60 544.16 100.62 544.66 100.65 545.16 100.67 545.66 100.69 546.16 100.72 546.66 100.74 547.16 100.76 547.66 100.78 548.16 100.81 548.66 100.83 549.16 100.85 549.66 100.87 550.16 100.89 550.66 100.92 551.16 100.94 551.66 100.96 552.16 100.98 552.65 101.00 553.15 101.02 553.65 101.04 554.15 101.06 554.65 101.09 555.15 101.11 555.65 101.13 556.15 101.15 556.65 101.17 557.15 101.20 557.65 101.22 558.15 101.24 558.65 101.26 559.15 101.29 559.65 101.31 560.15 101.34 560.65 101.36 561.15 101.39 561.65 101.42 562.15 101.44 562.65 101.47 563.15 101.50 563.65 101.53" fill="none" stroke="#6a6a6a" stroke-width="1" shape-rendering="crispEdges"/><path d="M446 108h1v1h-1zM448 107h1v1h-1zM449 106h1v1h-1zM451 106h1v1h-1zM453 105h1v1h-1zM454 105h1v1h-1zM456 104h1v1h-1zM458 104h1v1h-1zM460 104h1v1h-1zM462 103h1v1h-1zM463 103h1v1h-1zM465 103h1v1h-1zM467 103h1v1h-1zM469 104h1v1h-1zM471 104h1v1h-1zM472 104h1v1h-1zM474 104h1v1h-1zM476 104h1v1h-1zM478 105h1v1h-1zM479 105h1v1h-1zM481 105h1v1h-1zM483 106h1v1h-1zM485 106h1v1h-1zM487 106h1v1h-1zM488 107h1v1h-1zM490 107h1v1h-1zM492 108h1v1h-1zM494 108h1v1h-1zM495 108h1v1h-1zM497 108h1v1h-1zM499 109h1v1h-1zM501 109h1v1h-1zM503 109h1v1h-1zM504 109h1v1h-1zM506 110h1v1h-1zM508 110h1v1h-1zM510 110h1v1h-1zM511 110h1v1h-1zM513 110h1v1h-1zM515 110h1v1h-1zM517 110h1v1h-1zM519 110h1v1h-1zM520 110h1v1h-1zM522 110h1v1h-1zM524 110h1v1h-1zM526 110h1v1h-1zM528 110h1v1h-1zM529 110h1v1h-1zM531 110h1v1h-1zM533 109h1v1h-1zM535 109h1v1h-1zM537 109h1v1h-1zM538 109h1v1h-1zM540 109h1v1h-1zM542 109h1v1h-1zM544 109h1v1h-1zM546 109h1v1h-1zM547 109h1v1h-1zM549 109h1v1h-1zM551 110h1v1h-1zM553 110h1v1h-1zM555 110h1v1h-1zM556 111h1v1h-1zM558 111h1v1h-1zM560 112h1v1h-1zM561 113h1v1h-1zM563 114h1v1h-1z" fill="#9a9a9a" shape-rendering="crispEdges"/></g>
<g><path d="M10.5 176.5H132.5V297.5H10.5Z" fill="none" stroke="#6e6e6e" stroke-width="1"/><text x="3.80" y="180.60" class="yl" textLength="6.0" lengthAdjust="spacingAndGlyphs">1.45</text><text x="3.80" y="187.60" class="yl" textLength="6.0" lengthAdjust="spacingAndGlyphs">1.40</text><text x="3.80" y="195.60" class="yl" textLength="6.0" lengthAdjust="spacingAndGlyphs">1.35</text><text x="3.80" y="202.60" class="yl" textLength="6.0" lengthAdjust="spacingAndGlyphs">1.30</text><text x="3.80" y="209.60" class="yl" textLength="6.0" lengthAdjust="spacingAndGlyphs">1.25</text><text x="3.80" y="216.60" class="yl" textLength="6.0" lengthAdjust="spacingAndGlyphs">1.20</text><text x="3.80" y="224.60" class="yl" textLength="6.0" lengthAdjust="spacingAndGlyphs">1.15</text><text x="3.80" y="231.60" class="yl" textLength="6.0" lengthAdjust="spacingAndGlyphs">1.10</text><text x="3.80" y="238.60" class="yl" textLength="6.0" lengthAdjust="spacingAndGlyphs">1.05</text><text x="3.80" y="245.60" class="yl" textLength="6.0" lengthAdjust="spacingAndGlyphs">1.00</text><text x="3.80" y="253.60" class="yl" textLength="6.0" lengthAdjust="spacingAndGlyphs">.95</text><text x="3.80" y="260.60" class="yl" textLength="6.0" lengthAdjust="spacingAndGlyphs">.90</text><text x="3.80" y="267.60" class="yl" textLength="6.0" lengthAdjust="spacingAndGlyphs">.85</text><text x="3.80" y="274.60" class="yl" textLength="6.0" lengthAdjust="spacingAndGlyphs">.80</text><text x="3.80" y="282.60" class="yl" textLength="6.0" lengthAdjust="spacingAndGlyphs">.75</text><text x="3.80" y="289.60" class="yl" textLength="6.0" lengthAdjust="spacingAndGlyphs">.70</text><text x="3.80" y="296.60" class="yl" textLength="6.0" lengthAdjust="spacingAndGlyphs">.65</text><path d="M11 179h2v1h-2zM11 186h2v1h-2zM11 194h2v1h-2zM11 201h2v1h-2zM11 208h2v1h-2zM11 215h2v1h-2zM11 223h2v1h-2zM11 230h2v1h-2zM11 237h2v1h-2zM11 244h2v1h-2zM11 252h2v1h-2zM11 259h2v1h-2zM11 266h2v1h-2zM11 273h2v1h-2zM11 281h2v1h-2zM11 288h2v1h-2zM11 295h2v1h-2zM13 297h1v-1h-1zM19 297h1v-1h-1zM25 297h1v-1h-1zM30 297h1v-1h-1zM36 297h1v-1h-1zM42 297h1v-1h-1zM48 297h1v-1h-1zM54 297h1v-1h-1zM59 297h1v-1h-1zM65 297h1v-1h-1zM71 297h1v-1h-1zM77 297h1v-1h-1zM83 297h1v-1h-1zM88 297h1v-1h-1zM94 297h1v-1h-1zM100 297h1v-1h-1zM106 297h1v-1h-1zM112 297h1v-1h-1zM117 297h1v-1h-1zM123 297h1v-1h-1zM129 297h1v-1h-1z" fill="#8a8a8a" shape-rendering="crispEdges"/><path d="M17 299h4v2h-4zM24 299h2v2h-2zM28 299h4v2h-4zM35 299h2v2h-2zM40 299h4v2h-4zM47 299h2v2h-2zM52 299h4v2h-4zM58 299h2v2h-2zM63 299h4v2h-4zM70 299h2v2h-2zM75 299h4v2h-4zM82 299h2v2h-2zM86 299h4v2h-4zM93 299h2v2h-2zM98 299h4v2h-4zM105 299h2v2h-2zM110 299h4v2h-4zM116 299h2v2h-2zM121 299h4v2h-4zM129 298h1v3h-1z" fill="#111111" shape-rendering="crispEdges"/><path d="M12 298h2v3h-2z" fill="#555555" shape-rendering="crispEdges"/><path d="M18 298h3v1h-3zM24 298h2v1h-2zM29 298h3v1h-3zM35 298h2v1h-2zM41 298h3v1h-3zM47 298h2v1h-2zM53 298h3v1h-3zM58 298h2v1h-2zM64 298h3v1h-3zM70 298h2v1h-2zM76 298h3v1h-3zM82 298h2v1h-2zM87 298h3v1h-3zM93 298h2v1h-2zM99 298h3v1h-3zM105 298h2v1h-2zM111 298h3v1h-3zM116 298h2v1h-2zM122 298h3v1h-3z" fill="#aaaaaa" shape-rendering="crispEdges"/><text x="55.0" y="305.6" font-size="3.8" font-weight="bold" fill="#000" stroke="#000" stroke-width="0.25" textLength="33" lengthAdjust="spacingAndGlyphs">Particular trials density</text><text transform="translate(2.5 237.0) rotate(-90)" x="-10.7" y="0" font-size="3.0" font-weight="bold" fill="#000" stroke="#000" stroke-width="0.3" textLength="21.5" lengthAdjust="spacingAndGlyphs">Predicted value</text><path d="M12 237h1v1h-1zM14 236h1v1h-1zM15 234h1v1h-1zM16 233h1v1h-1zM18 232h1v1h-1zM19 231h1v1h-1zM20 229h1v1h-1zM21 228h1v1h-1zM23 227h1v1h-1zM24 225h1v1h-1zM25 224h1v1h-1zM26 223h1v1h-1zM27 221h1v1h-1zM28 220h1v1h-1zM29 218h1v1h-1zM30 217h1v1h-1zM31 215h1v1h-1zM33 214h1v1h-1zM34 213h1v1h-1zM35 211h1v1h-1zM36 210h1v1h-1zM37 208h1v1h-1zM38 207h1v1h-1zM39 206h1v1h-1zM40 204h1v1h-1zM42 203h1v1h-1zM43 201h1v1h-1zM44 200h1v1h-1zM45 199h1v1h-1zM46 197h1v1h-1zM48 196h1v1h-1zM49 195h1v1h-1zM50 194h1v1h-1zM52 192h1v1h-1zM53 191h1v1h-1zM54 190h1v1h-1zM56 189h1v1h-1zM57 188h1v1h-1zM59 187h1v1h-1zM60 186h1v1h-1zM62 185h1v1h-1zM63 184h1v1h-1zM65 184h1v1h-1zM67 183h1v1h-1zM68 182h1v1h-1zM70 182h1v1h-1zM72 181h1v1h-1zM74 181h1v1h-1zM75 181h1v1h-1zM77 181h1v1h-1zM79 181h1v1h-1zM81 181h1v1h-1zM83 181h1v1h-1zM84 181h1v1h-1zM86 181h1v1h-1zM88 181h1v1h-1zM90 181h1v1h-1zM92 181h1v1h-1zM93 182h1v1h-1zM95 182h1v1h-1zM97 182h1v1h-1zM99 183h1v1h-1zM100 183h1v1h-1zM102 183h1v1h-1zM104 184h1v1h-1zM106 184h1v1h-1zM108 184h1v1h-1zM109 185h1v1h-1zM111 185h1v1h-1zM113 185h1v1h-1zM115 186h1v1h-1zM116 186h1v1h-1zM118 186h1v1h-1zM120 187h1v1h-1zM122 187h1v1h-1zM123 187h1v1h-1zM125 188h1v1h-1zM127 188h1v1h-1z" fill="#9a9a9a" shape-rendering="crispEdges"/><path d="M13.90 255.23 14.40 254.47 14.90 253.71 15.40 252.96 15.90 252.22 16.40 251.48 16.90 250.74 17.40 250.01 17.90 249.29 18.40 248.57 18.90 247.85 19.40 247.14 19.90 246.44 20.40 245.74 20.90 245.04 21.40 244.35 21.90 243.67 22.40 242.99 22.90 242.32 23.40 241.65 23.90 240.99 24.40 240.33 24.90 239.68 25.40 239.04 25.89 238.40 26.39 237.76 26.89 237.13 27.39 236.51 27.89 235.89 28.39 235.28 28.89 234.68 29.39 234.07 29.89 233.48 30.39 232.89 30.89 232.31 31.39 231.73 31.89 231.16 32.39 230.59 32.89 230.03 33.39 229.48 33.89 228.93 34.39 228.39 34.89 227.85 35.39 227.32 35.89 226.80 36.39 226.28 36.89 225.77 37.39 225.26 37.89 224.76 38.39 224.27 38.89 223.78 39.39 223.30 39.89 222.82 40.39 222.35 40.89 221.89 41.39 221.43 41.89 220.98 42.39 220.53 42.89 220.10 43.39 219.66 43.89 219.24 44.39 218.82 44.89 218.41 45.39 218.00 45.89 217.60 46.39 217.20 46.89 216.82 47.39 216.44 47.89 216.06 48.39 215.69 48.88 215.33 49.38 214.97 49.88 214.63 50.38 214.28 50.88 213.95 51.38 213.62 51.88 213.30 52.38 212.98 52.88 212.67 53.38 212.37 53.88 212.07 54.38 211.78 54.88 211.50 55.38 211.22 55.88 210.95 56.38 210.69 56.88 210.43 57.38 210.18 57.88 209.93 58.38 209.70 58.88 209.47 59.38 209.24 59.88 209.03 60.38 208.82 60.88 208.61 61.38 208.42 61.88 208.23 62.38 208.05 62.88 207.87 63.38 207.70 63.88 207.54 64.38 207.38 64.88 207.23 65.38 207.09 65.88 206.95 66.38 206.82 66.88 206.70 67.38 206.59 67.88 206.48 68.38 206.38 68.88 206.28 69.38 206.19 69.88 206.11 70.38 206.04 70.88 205.97 71.38 205.91 71.87 205.85 72.37 205.80 72.87 205.76 73.37 205.73 73.87 205.70 74.37 205.68 74.87 205.67 75.37 205.66 75.87 205.66 76.37 205.67 76.87 205.68 77.37 205.70 77.87 205.73 78.37 205.76 78.87 205.80 79.37 205.85 79.87 205.90 80.37 205.96 80.87 206.03 81.37 206.10 81.87 206.18 82.37 206.27 82.87 206.36 83.37 206.46 83.87 206.57 84.37 206.68 84.87 206.80 85.37 206.93 85.87 207.06 86.37 207.20 86.87 207.34 87.37 207.50 87.87 207.65 88.37 207.82 88.87 207.99 89.37 208.17 89.87 208.35 90.37 208.55 90.87 208.74 91.37 208.95 91.87 209.16 92.37 209.37 92.87 209.60 93.37 209.82 93.87 210.06 94.37 210.30 94.86 210.55 95.36 210.80 95.86 211.06 96.36 211.33 96.86 211.60 97.36 211.88 97.86 212.16 98.36 212.45 98.86 212.75 99.36 213.05 99.86 213.36 100.36 213.67 100.86 213.99 101.36 214.32 101.86 214.65 102.36 214.99 102.86 215.33 103.36 215.68 103.86 216.03 104.36 216.39 104.86 216.76 105.36 217.13 105.86 217.50 106.36 217.88 106.86 218.27 107.36 218.66 107.86 219.06 108.36 219.47 108.86 219.87 109.36 220.29 109.86 220.71 110.36 221.13 110.86 221.56 111.36 221.99 111.86 222.43 112.36 222.88 112.86 223.33 113.36 223.78 113.86 224.24 114.36 224.70 114.86 225.17 115.36 225.64 115.86 226.12 116.36 226.60 116.86 227.09 117.36 227.58 117.85 228.08 118.35 228.58 118.85 229.08 119.35 229.59 119.85 230.10 120.35 230.62 120.85 231.14 121.35 231.66 121.85 232.19 122.35 232.72 122.85 233.26 123.35 233.80 123.85 234.34 124.35 234.89 124.85 235.44 125.35 236.00 125.85 236.56 126.35 237.12 126.85 237.68 127.35 238.25 127.85 238.82 128.35 239.39 128.85 239.97" fill="none" stroke="#6a6a6a" stroke-width="1" shape-rendering="crispEdges"/><path d="M13 272h1v1h-1zM13 271h1v1h-1zM14 269h1v1h-1zM15 267h1v1h-1zM16 266h1v1h-1zM16 264h1v1h-1zM17 263h1v1h-1zM18 261h1v1h-1zM19 259h1v1h-1zM20 258h1v1h-1zM21 256h1v1h-1zM22 255h1v1h-1zM23 253h1v1h-1zM24 252h1v1h-1zM25 250h1v1h-1zM26 249h1v1h-1zM27 248h1v1h-1zM29 246h1v1h-1zM30 245h1v1h-1zM31 244h1v1h-1zM33 243h1v1h-1zM34 242h1v1h-1zM36 241h1v1h-1zM37 240h1v1h-1zM39 239h1v1h-1zM40 238h1v1h-1zM42 237h1v1h-1zM43 236h1v1h-1zM45 236h1v1h-1zM47 235h1v1h-1zM48 234h1v1h-1zM50 234h1v1h-1zM52 233h1v1h-1zM54 233h1v1h-1zM55 232h1v1h-1zM57 232h1v1h-1zM59 231h1v1h-1zM61 231h1v1h-1zM62 231h1v1h-1zM64 231h1v1h-1zM66 230h1v1h-1zM68 230h1v1h-1zM70 230h1v1h-1zM71 230h1v1h-1zM73 230h1v1h-1zM75 230h1v1h-1zM77 231h1v1h-1zM78 231h1v1h-1zM80 231h1v1h-1zM82 232h1v1h-1zM84 232h1v1h-1zM85 233h1v1h-1zM87 234h1v1h-1zM89 234h1v1h-1zM90 235h1v1h-1zM92 236h1v1h-1zM93 237h1v1h-1zM95 238h1v1h-1zM96 239h1v1h-1zM97 241h1v1h-1zM99 242h1v1h-1zM100 243h1v1h-1zM101 244h1v1h-1zM103 246h1v1h-1zM104 247h1v1h-1zM105 248h1v1h-1zM106 250h1v1h-1zM107 251h1v1h-1zM108 253h1v1h-1zM109 254h1v1h-1zM110 256h1v1h-1zM111 257h1v1h-1zM112 259h1v1h-1zM113 260h1v1h-1zM114 262h1v1h-1zM115 263h1v1h-1zM116 265h1v1h-1zM117 267h1v1h-1zM117 268h1v1h-1zM118 270h1v1h-1zM119 271h1v1h-1zM120 273h1v1h-1zM121 275h1v1h-1zM122 276h1v1h-1zM122 278h1v1h-1zM123 279h1v1h-1zM124 281h1v1h-1zM125 283h1v1h-1zM125 284h1v1h-1zM126 286h1v1h-1zM127 288h1v1h-1zM127 289h1v1h-1zM128 291h1v1h-1zM129 293h1v1h-1z" fill="#9a9a9a" shape-rendering="crispEdges"/></g>
<g><path d="M149.5 176.5H271.5V298.5H149.5Z" fill="none" stroke="#6e6e6e" stroke-width="1"/><text x="142.80" y="180.60" class="yl" textLength="6.0" lengthAdjust="spacingAndGlyphs">1.45</text><text x="142.80" y="187.60" class="yl" textLength="6.0" lengthAdjust="spacingAndGlyphs">1.40</text><text x="142.80" y="194.60" class="yl" textLength="6.0" lengthAdjust="spacingAndGlyphs">1.35</text><text x="142.80" y="202.60" class="yl" textLength="6.0" lengthAdjust="spacingAndGlyphs">1.30</text><text x="142.80" y="209.60" class="yl" textLength="6.0" lengthAdjust="spacingAndGlyphs">1.25</text><text x="142.80" y="216.60" class="yl" textLength="6.0" lengthAdjust="spacingAndGlyphs">1.20</text><text x="142.80" y="224.60" class="yl" textLength="6.0" lengthAdjust="spacingAndGlyphs">1.15</text><text x="142.80" y="231.60" class="yl" textLength="6.0" lengthAdjust="spacingAndGlyphs">1.10</text><text x="142.80" y="238.60" class="yl" textLength="6.0" lengthAdjust="spacingAndGlyphs">1.05</text><text x="142.80" y="245.60" class="yl" textLength="6.0" lengthAdjust="spacingAndGlyphs">1.00</text><text x="142.80" y="253.60" class="yl" textLength="6.0" lengthAdjust="spacingAndGlyphs">.95</text><text x="142.80" y="260.60" class="yl" textLength="6.0" lengthAdjust="spacingAndGlyphs">.90</text><text x="142.80" y="267.60" class="yl" textLength="6.0" lengthAdjust="spacingAndGlyphs">.85</text><text x="142.80" y="275.60" class="yl" textLength="6.0" lengthAdjust="spacingAndGlyphs">.80</text><text x="142.80" y="282.60" class="yl" textLength="6.0" lengthAdjust="spacingAndGlyphs">.75</text><text x="142.80" y="289.60" class="yl" textLength="6.0" lengthAdjust="spacingAndGlyphs">.70</text><text x="142.80" y="297.60" class="yl" textLength="6.0" lengthAdjust="spacingAndGlyphs">.65</text><path d="M150 179h2v1h-2zM150 186h2v1h-2zM150 193h2v1h-2zM150 201h2v1h-2zM150 208h2v1h-2zM150 215h2v1h-2zM150 223h2v1h-2zM150 230h2v1h-2zM150 237h2v1h-2zM150 244h2v1h-2zM150 252h2v1h-2zM150 259h2v1h-2zM150 266h2v1h-2zM150 274h2v1h-2zM150 281h2v1h-2zM150 288h2v1h-2zM150 296h2v1h-2zM151 298h1v-1h-1zM157 298h1v-1h-1zM163 298h1v-1h-1zM169 298h1v-1h-1zM174 298h1v-1h-1zM180 298h1v-1h-1zM186 298h1v-1h-1zM192 298h1v-1h-1zM198 298h1v-1h-1zM204 298h1v-1h-1zM210 298h1v-1h-1zM215 298h1v-1h-1zM221 298h1v-1h-1zM227 298h1v-1h-1zM233 298h1v-1h-1zM239 298h1v-1h-1zM245 298h1v-1h-1zM250 298h1v-1h-1zM256 298h1v-1h-1zM262 298h1v-1h-1zM268 298h1v-1h-1z" fill="#8a8a8a" shape-rendering="crispEdges"/><path d="M155 300h4v2h-4zM162 300h2v2h-2zM167 300h4v2h-4zM173 300h2v2h-2zM178 300h4v2h-4zM185 300h2v2h-2zM190 300h4v2h-4zM197 300h2v2h-2zM202 300h4v2h-4zM209 300h2v2h-2zM213 300h4v2h-4zM220 300h2v2h-2zM225 300h4v2h-4zM232 300h2v2h-2zM237 300h4v2h-4zM244 300h2v2h-2zM248 300h4v2h-4zM255 300h2v2h-2zM260 300h4v2h-4zM268 299h1v3h-1z" fill="#111111" shape-rendering="crispEdges"/><path d="M150 299h2v3h-2z" fill="#555555" shape-rendering="crispEdges"/><path d="M156 299h3v1h-3zM162 299h2v1h-2zM168 299h3v1h-3zM173 299h2v1h-2zM179 299h3v1h-3zM185 299h2v1h-2zM191 299h3v1h-3zM197 299h2v1h-2zM203 299h3v1h-3zM209 299h2v1h-2zM214 299h3v1h-3zM220 299h2v1h-2zM226 299h3v1h-3zM232 299h2v1h-2zM238 299h3v1h-3zM244 299h2v1h-2zM249 299h3v1h-3zM255 299h2v1h-2zM261 299h3v1h-3z" fill="#aaaaaa" shape-rendering="crispEdges"/><text x="196.5" y="306.6" font-size="3.8" font-weight="bold" fill="#000" stroke="#000" stroke-width="0.25" textLength="28" lengthAdjust="spacingAndGlyphs">Closed trials density</text><path d="M151 225h1v1h-1zM153 225h1v1h-1zM155 225h1v1h-1zM156 225h1v1h-1zM158 225h1v1h-1zM160 224h1v1h-1zM162 224h1v1h-1zM164 224h1v1h-1zM165 224h1v1h-1zM167 223h1v1h-1zM169 223h1v1h-1zM171 223h1v1h-1zM172 222h1v1h-1zM174 222h1v1h-1zM176 221h1v1h-1zM178 221h1v1h-1zM179 220h1v1h-1zM181 220h1v1h-1zM183 220h1v1h-1zM185 219h1v1h-1zM186 219h1v1h-1zM188 218h1v1h-1zM190 218h1v1h-1zM192 218h1v1h-1zM194 218h1v1h-1zM195 217h1v1h-1zM197 217h1v1h-1zM199 217h1v1h-1zM201 217h1v1h-1zM203 217h1v1h-1zM204 217h1v1h-1zM206 217h1v1h-1zM208 217h1v1h-1zM210 217h1v1h-1zM211 217h1v1h-1zM213 218h1v1h-1zM215 218h1v1h-1zM217 219h1v1h-1zM218 219h1v1h-1zM220 220h1v1h-1zM222 220h1v1h-1zM224 221h1v1h-1zM225 222h1v1h-1zM227 222h1v1h-1zM228 223h1v1h-1zM230 224h1v1h-1zM232 225h1v1h-1zM233 226h1v1h-1zM235 227h1v1h-1zM236 228h1v1h-1zM238 229h1v1h-1zM239 230h1v1h-1zM241 231h1v1h-1zM242 232h1v1h-1zM243 233h1v1h-1zM245 234h1v1h-1zM246 235h1v1h-1zM248 236h1v1h-1zM249 237h1v1h-1zM251 239h1v1h-1zM252 240h1v1h-1zM254 241h1v1h-1zM255 242h1v1h-1zM256 243h1v1h-1zM258 244h1v1h-1zM259 245h1v1h-1zM261 246h1v1h-1zM263 247h1v1h-1zM264 247h1v1h-1zM266 248h1v1h-1z" fill="#9a9a9a" shape-rendering="crispEdges"/><path d="M151.60 250.13 152.10 249.81 152.60 249.49 153.10 249.17 153.60 248.86 154.10 248.55 154.60 248.23 155.10 247.92 155.60 247.62 156.10 247.31 156.60 247.01 157.10 246.71 157.60 246.41 158.10 246.11 158.60 245.82 159.10 245.52 159.60 245.24 160.10 244.95 160.60 244.66 161.10 244.38 161.60 244.10 162.10 243.83 162.60 243.55 163.10 243.28 163.59 243.01 164.09 242.75 164.59 242.48 165.09 242.22 165.59 241.97 166.09 241.71 166.59 241.46 167.09 241.21 167.59 240.97 168.09 240.72 168.59 240.48 169.09 240.25 169.59 240.02 170.09 239.79 170.59 239.56 171.09 239.34 171.59 239.12 172.09 238.90 172.59 238.68 173.09 238.47 173.59 238.27 174.09 238.06 174.59 237.86 175.09 237.67 175.59 237.47 176.09 237.28 176.59 237.10 177.09 236.91 177.59 236.73 178.09 236.56 178.59 236.38 179.09 236.22 179.59 236.05 180.09 235.89 180.59 235.73 181.09 235.57 181.59 235.42 182.09 235.28 182.59 235.13 183.09 234.99 183.59 234.85 184.09 234.72 184.59 234.59 185.09 234.47 185.59 234.34 186.09 234.23 186.59 234.11 187.08 234.00 187.58 233.89 188.08 233.79 188.58 233.69 189.08 233.59 189.58 233.50 190.08 233.41 190.58 233.33 191.08 233.25 191.58 233.17 192.08 233.10 192.58 233.03 193.08 232.96 193.58 232.90 194.08 232.84 194.58 232.78 195.08 232.73 195.58 232.69 196.08 232.64 196.58 232.60 197.08 232.57 197.58 232.53 198.08 232.51 198.58 232.48 199.08 232.46 199.58 232.44 200.08 232.43 200.58 232.42 201.08 232.41 201.58 232.41 202.08 232.41 202.58 232.42 203.08 232.43 203.58 232.44 204.08 232.46 204.58 232.48 205.08 232.50 205.58 232.53 206.08 232.56 206.58 232.59 207.08 232.63 207.58 232.67 208.08 232.72 208.58 232.77 209.08 232.82 209.58 232.88 210.08 232.94 210.57 233.01 211.07 233.07 211.57 233.15 212.07 233.22 212.57 233.30 213.07 233.38 213.57 233.47 214.07 233.56 214.57 233.65 215.07 233.75 215.57 233.85 216.07 233.95 216.57 234.06 217.07 234.17 217.57 234.29 218.07 234.40 218.57 234.52 219.07 234.65 219.57 234.78 220.07 234.91 220.57 235.05 221.07 235.19 221.57 235.33 222.07 235.47 222.57 235.62 223.07 235.78 223.57 235.93 224.07 236.09 224.57 236.26 225.07 236.42 225.57 236.60 226.07 236.77 226.57 236.95 227.07 237.13 227.57 237.31 228.07 237.50 228.57 237.69 229.07 237.88 229.57 238.08 230.07 238.28 230.57 238.49 231.07 238.69 231.57 238.90 232.07 239.12 232.57 239.34 233.07 239.56 233.57 239.78 234.06 240.01 234.56 240.24 235.06 240.48 235.56 240.71 236.06 240.95 236.56 241.20 237.06 241.45 237.56 241.70 238.06 241.95 238.56 242.21 239.06 242.47 239.56 242.73 240.06 243.00 240.56 243.27 241.06 243.55 241.56 243.82 242.06 244.11 242.56 244.39 243.06 244.68 243.56 244.97 244.06 245.26 244.56 245.56 245.06 245.86 245.56 246.16 246.06 246.47 246.56 246.78 247.06 247.10 247.56 247.41 248.06 247.73 248.56 248.06 249.06 248.39 249.56 248.72 250.06 249.05 250.56 249.39 251.06 249.73 251.56 250.07 252.06 250.42 252.56 250.77 253.06 251.13 253.56 251.49 254.06 251.85 254.56 252.21 255.06 252.58 255.56 252.95 256.06 253.33 256.56 253.71 257.06 254.09 257.55 254.48 258.05 254.87 258.55 255.26 259.05 255.66 259.55 256.06 260.05 256.46 260.55 256.87 261.05 257.28 261.55 257.70 262.05 258.12 262.55 258.54 263.05 258.96 263.55 259.39 264.05 259.83 264.55 260.27 265.05 260.71 265.55 261.15 266.05 261.60 266.55 262.06 267.05 262.51 267.55 262.98 268.05 263.44 268.55 263.91" fill="none" stroke="#6a6a6a" stroke-width="1" shape-rendering="crispEdges"/><path d="M151 275h1v1h-1zM152 274h1v1h-1zM153 272h1v1h-1zM154 271h1v1h-1zM155 270h1v1h-1zM156 268h1v1h-1zM158 267h1v1h-1zM159 265h1v1h-1zM160 264h1v1h-1zM161 263h1v1h-1zM163 261h1v1h-1zM164 260h1v1h-1zM165 259h1v1h-1zM167 258h1v1h-1zM168 257h1v1h-1zM169 256h1v1h-1zM171 255h1v1h-1zM172 254h1v1h-1zM174 253h1v1h-1zM175 252h1v1h-1zM177 251h1v1h-1zM179 250h1v1h-1zM180 250h1v1h-1zM182 249h1v1h-1zM184 249h1v1h-1zM186 248h1v1h-1zM187 248h1v1h-1zM189 248h1v1h-1zM191 247h1v1h-1zM193 247h1v1h-1zM195 247h1v1h-1zM196 247h1v1h-1zM198 247h1v1h-1zM200 247h1v1h-1zM202 247h1v1h-1zM204 247h1v1h-1zM205 248h1v1h-1zM207 248h1v1h-1zM209 248h1v1h-1zM211 248h1v1h-1zM212 249h1v1h-1zM214 249h1v1h-1zM216 249h1v1h-1zM218 249h1v1h-1zM220 250h1v1h-1zM221 250h1v1h-1zM223 250h1v1h-1zM225 251h1v1h-1zM227 251h1v1h-1zM228 252h1v1h-1zM230 252h1v1h-1zM232 252h1v1h-1zM234 253h1v1h-1zM235 253h1v1h-1zM237 254h1v1h-1zM239 254h1v1h-1zM240 255h1v1h-1zM242 256h1v1h-1zM244 256h1v1h-1zM245 257h1v1h-1zM247 258h1v1h-1zM249 259h1v1h-1zM250 260h1v1h-1zM252 261h1v1h-1zM253 262h1v1h-1zM254 263h1v1h-1zM256 264h1v1h-1zM257 265h1v1h-1zM258 267h1v1h-1zM260 268h1v1h-1zM261 269h1v1h-1zM262 271h1v1h-1zM263 272h1v1h-1zM264 274h1v1h-1zM265 275h1v1h-1zM266 277h1v1h-1zM267 278h1v1h-1zM268 280h1v1h-1z" fill="#9a9a9a" shape-rendering="crispEdges"/></g>
<g><path d="M306.5 176.5H427.5V297.5H306.5Z" fill="none" stroke="#6e6e6e" stroke-width="1"/><text x="299.80" y="180.60" class="yl" textLength="6.0" lengthAdjust="spacingAndGlyphs">1.45</text><text x="299.80" y="187.60" class="yl" textLength="6.0" lengthAdjust="spacingAndGlyphs">1.40</text><text x="299.80" y="194.60" class="yl" textLength="6.0" lengthAdjust="spacingAndGlyphs">1.35</text><text x="299.80" y="201.60" class="yl" textLength="6.0" lengthAdjust="spacingAndGlyphs">1.30</text><text x="299.80" y="207.60" class="yl" textLength="6.0" lengthAdjust="spacingAndGlyphs">1.25</text><text x="299.80" y="214.60" class="yl" textLength="6.0" lengthAdjust="spacingAndGlyphs">1.20</text><text x="299.80" y="221.60" class="yl" textLength="6.0" lengthAdjust="spacingAndGlyphs">1.15</text><text x="299.80" y="228.60" class="yl" textLength="6.0" lengthAdjust="spacingAndGlyphs">1.10</text><text x="299.80" y="235.60" class="yl" textLength="6.0" lengthAdjust="spacingAndGlyphs">1.05</text><text x="299.80" y="242.60" class="yl" textLength="6.0" lengthAdjust="spacingAndGlyphs">1.00</text><text x="299.80" y="248.60" class="yl" textLength="6.0" lengthAdjust="spacingAndGlyphs">.95</text><text x="299.80" y="255.60" class="yl" textLength="6.0" lengthAdjust="spacingAndGlyphs">.90</text><text x="299.80" y="262.60" class="yl" textLength="6.0" lengthAdjust="spacingAndGlyphs">.85</text><text x="299.80" y="269.60" class="yl" textLength="6.0" lengthAdjust="spacingAndGlyphs">.80</text><text x="299.80" y="276.60" class="yl" textLength="6.0" lengthAdjust="spacingAndGlyphs">.75</text><text x="299.80" y="282.60" class="yl" textLength="6.0" lengthAdjust="spacingAndGlyphs">.70</text><text x="299.80" y="289.60" class="yl" textLength="6.0" lengthAdjust="spacingAndGlyphs">.65</text><text x="299.80" y="296.60" class="yl" textLength="6.0" lengthAdjust="spacingAndGlyphs">.60</text><path d="M307 179h2v1h-2zM307 186h2v1h-2zM307 193h2v1h-2zM307 200h2v1h-2zM307 206h2v1h-2zM307 213h2v1h-2zM307 220h2v1h-2zM307 227h2v1h-2zM307 234h2v1h-2zM307 241h2v1h-2zM307 247h2v1h-2zM307 254h2v1h-2zM307 261h2v1h-2zM307 268h2v1h-2zM307 275h2v1h-2zM307 281h2v1h-2zM307 288h2v1h-2zM307 295h2v1h-2zM308 297h1v-1h-1zM314 297h1v-1h-1zM320 297h1v-1h-1zM326 297h1v-1h-1zM331 297h1v-1h-1zM337 297h1v-1h-1zM343 297h1v-1h-1zM349 297h1v-1h-1zM355 297h1v-1h-1zM361 297h1v-1h-1zM367 297h1v-1h-1zM372 297h1v-1h-1zM378 297h1v-1h-1zM384 297h1v-1h-1zM390 297h1v-1h-1zM396 297h1v-1h-1zM402 297h1v-1h-1zM407 297h1v-1h-1zM413 297h1v-1h-1zM419 297h1v-1h-1zM425 297h1v-1h-1z" fill="#8a8a8a" shape-rendering="crispEdges"/><path d="M312 299h4v2h-4zM319 299h2v2h-2zM324 299h4v2h-4zM330 299h2v2h-2zM335 299h4v2h-4zM342 299h2v2h-2zM347 299h4v2h-4zM354 299h2v2h-2zM359 299h4v2h-4zM366 299h2v2h-2zM370 299h4v2h-4zM377 299h2v2h-2zM382 299h4v2h-4zM389 299h2v2h-2zM394 299h4v2h-4zM401 299h2v2h-2zM405 299h4v2h-4zM412 299h2v2h-2zM417 299h4v2h-4zM425 298h1v3h-1z" fill="#111111" shape-rendering="crispEdges"/><path d="M307 298h2v3h-2z" fill="#555555" shape-rendering="crispEdges"/><path d="M313 298h3v1h-3zM319 298h2v1h-2zM325 298h3v1h-3zM330 298h2v1h-2zM336 298h3v1h-3zM342 298h2v1h-2zM348 298h3v1h-3zM354 298h2v1h-2zM360 298h3v1h-3zM366 298h2v1h-2zM371 298h3v1h-3zM377 298h2v1h-2zM383 298h3v1h-3zM389 298h2v1h-2zM395 298h3v1h-3zM401 298h2v1h-2zM406 298h3v1h-3zM412 298h2v1h-2zM418 298h3v1h-3z" fill="#aaaaaa" shape-rendering="crispEdges"/><text x="350.5" y="305.6" font-size="3.8" font-weight="bold" fill="#000" stroke="#000" stroke-width="0.25" textLength="33" lengthAdjust="spacingAndGlyphs">Particular trials density</text><text transform="translate(297.5 237.0) rotate(-90)" x="-10.7" y="0" font-size="3.0" font-weight="bold" fill="#000" stroke="#000" stroke-width="0.3" textLength="21.5" lengthAdjust="spacingAndGlyphs">Predicted value</text><path d="M308 214h1v1h-1zM309 213h1v1h-1zM310 212h1v1h-1zM312 210h1v1h-1zM313 209h1v1h-1zM314 208h1v1h-1zM315 206h1v1h-1zM317 205h1v1h-1zM318 204h1v1h-1zM319 203h1v1h-1zM321 201h1v1h-1zM322 200h1v1h-1zM323 199h1v1h-1zM324 198h1v1h-1zM326 196h1v1h-1zM327 195h1v1h-1zM329 194h1v1h-1zM330 193h1v1h-1zM331 192h1v1h-1zM333 191h1v1h-1zM334 190h1v1h-1zM336 189h1v1h-1zM337 188h1v1h-1zM339 187h1v1h-1zM340 186h1v1h-1zM342 185h1v1h-1zM344 184h1v1h-1zM345 183h1v1h-1zM347 183h1v1h-1zM349 182h1v1h-1zM350 182h1v1h-1zM352 181h1v1h-1zM354 181h1v1h-1zM356 180h1v1h-1zM357 180h1v1h-1zM359 180h1v1h-1zM361 180h1v1h-1zM363 180h1v1h-1zM364 180h1v1h-1zM366 181h1v1h-1zM368 181h1v1h-1zM370 181h1v1h-1zM371 182h1v1h-1zM373 183h1v1h-1zM375 183h1v1h-1zM377 184h1v1h-1zM378 185h1v1h-1zM380 186h1v1h-1zM381 186h1v1h-1zM383 187h1v1h-1zM384 188h1v1h-1zM386 189h1v1h-1zM387 190h1v1h-1zM389 191h1v1h-1zM390 192h1v1h-1zM392 193h1v1h-1zM393 195h1v1h-1zM395 196h1v1h-1zM396 197h1v1h-1zM397 198h1v1h-1zM399 199h1v1h-1zM400 201h1v1h-1zM401 202h1v1h-1zM403 203h1v1h-1zM404 204h1v1h-1zM405 206h1v1h-1zM406 207h1v1h-1zM408 208h1v1h-1zM409 209h1v1h-1zM410 211h1v1h-1zM411 212h1v1h-1zM413 213h1v1h-1zM414 215h1v1h-1zM415 216h1v1h-1zM416 217h1v1h-1zM417 219h1v1h-1zM419 220h1v1h-1zM420 221h1v1h-1zM421 223h1v1h-1zM422 224h1v1h-1z" fill="#9a9a9a" shape-rendering="crispEdges"/><path d="M308.70 231.38 309.20 230.72 309.70 230.08 310.20 229.44 310.70 228.81 311.20 228.18 311.70 227.56 312.20 226.95 312.70 226.35 313.20 225.75 313.70 225.16 314.20 224.58 314.70 224.00 315.20 223.43 315.70 222.87 316.20 222.32 316.70 221.77 317.20 221.23 317.70 220.70 318.20 220.17 318.70 219.65 319.20 219.14 319.70 218.63 320.20 218.13 320.69 217.64 321.19 217.15 321.69 216.67 322.19 216.20 322.69 215.74 323.19 215.28 323.69 214.83 324.19 214.38 324.69 213.94 325.19 213.51 325.69 213.09 326.19 212.67 326.69 212.26 327.19 211.85 327.69 211.46 328.19 211.06 328.69 210.68 329.19 210.30 329.69 209.93 330.19 209.57 330.69 209.21 331.19 208.86 331.69 208.51 332.19 208.17 332.69 207.84 333.19 207.52 333.69 207.20 334.19 206.89 334.69 206.58 335.19 206.29 335.69 205.99 336.19 205.71 336.69 205.43 337.19 205.16 337.69 204.89 338.19 204.63 338.69 204.38 339.19 204.14 339.69 203.90 340.19 203.67 340.69 203.44 341.19 203.22 341.69 203.01 342.19 202.80 342.69 202.60 343.19 202.41 343.68 202.23 344.18 202.05 344.68 201.88 345.18 201.71 345.68 201.55 346.18 201.40 346.68 201.25 347.18 201.11 347.68 200.98 348.18 200.85 348.68 200.73 349.18 200.62 349.68 200.52 350.18 200.42 350.68 200.32 351.18 200.24 351.68 200.16 352.18 200.09 352.68 200.02 353.18 199.96 353.68 199.91 354.18 199.86 354.68 199.82 355.18 199.79 355.68 199.77 356.18 199.75 356.68 199.74 357.18 199.73 357.68 199.73 358.18 199.74 358.68 199.76 359.18 199.78 359.68 199.81 360.18 199.84 360.68 199.88 361.18 199.93 361.68 199.99 362.18 200.05 362.68 200.12 363.18 200.20 363.68 200.28 364.18 200.37 364.68 200.47 365.18 200.57 365.68 200.68 366.18 200.80 366.67 200.92 367.17 201.05 367.67 201.19 368.17 201.34 368.67 201.49 369.17 201.65 369.67 201.81 370.17 201.98 370.67 202.16 371.17 202.35 371.67 202.54 372.17 202.74 372.67 202.95 373.17 203.16 373.67 203.38 374.17 203.61 374.67 203.84 375.17 204.08 375.67 204.33 376.17 204.59 376.67 204.85 377.17 205.12 377.67 205.39 378.17 205.68 378.67 205.97 379.17 206.26 379.67 206.56 380.17 206.88 380.67 207.19 381.17 207.52 381.67 207.85 382.17 208.19 382.67 208.53 383.17 208.88 383.67 209.24 384.17 209.61 384.67 209.98 385.17 210.36 385.67 210.74 386.17 211.14 386.67 211.54 387.17 211.94 387.67 212.36 388.17 212.78 388.67 213.20 389.17 213.64 389.66 214.08 390.16 214.53 390.66 214.98 391.16 215.44 391.66 215.91 392.16 216.38 392.66 216.87 393.16 217.35 393.66 217.85 394.16 218.35 394.66 218.86 395.16 219.38 395.66 219.90 396.16 220.43 396.66 220.96 397.16 221.50 397.66 222.05 398.16 222.61 398.66 223.17 399.16 223.74 399.66 224.31 400.16 224.89 400.66 225.48 401.16 226.08 401.66 226.68 402.16 227.28 402.66 227.90 403.16 228.52 403.66 229.15 404.16 229.78 404.66 230.42 405.16 231.06 405.66 231.72 406.16 232.37 406.66 233.04 407.16 233.71 407.66 234.39 408.16 235.07 408.66 235.76 409.16 236.45 409.66 237.16 410.16 237.86 410.66 238.58 411.16 239.30 411.66 240.02 412.16 240.75 412.65 241.49 413.15 242.23 413.65 242.98 414.15 243.74 414.65 244.50 415.15 245.26 415.65 246.03 416.15 246.81 416.65 247.59 417.15 248.38 417.65 249.18 418.15 249.98 418.65 250.78 419.15 251.59 419.65 252.41 420.15 253.23 420.65 254.05 421.15 254.88 421.65 255.72 422.15 256.56 422.65 257.41 423.15 258.26 423.65 259.11" fill="none" stroke="#6a6a6a" stroke-width="1" shape-rendering="crispEdges"/><path d="M308 249h1v1h-1zM309 248h1v1h-1zM310 246h1v1h-1zM311 245h1v1h-1zM313 243h1v1h-1zM314 242h1v1h-1zM315 241h1v1h-1zM316 239h1v1h-1zM317 238h1v1h-1zM318 237h1v1h-1zM320 235h1v1h-1zM321 234h1v1h-1zM322 233h1v1h-1zM324 232h1v1h-1zM325 230h1v1h-1zM326 229h1v1h-1zM328 228h1v1h-1zM329 227h1v1h-1zM331 226h1v1h-1zM332 225h1v1h-1zM334 224h1v1h-1zM335 223h1v1h-1zM337 222h1v1h-1zM338 222h1v1h-1zM340 221h1v1h-1zM342 220h1v1h-1zM344 220h1v1h-1zM345 219h1v1h-1zM347 219h1v1h-1zM349 218h1v1h-1zM351 218h1v1h-1zM352 218h1v1h-1zM354 218h1v1h-1zM356 218h1v1h-1zM358 218h1v1h-1zM360 218h1v1h-1zM361 218h1v1h-1zM363 219h1v1h-1zM365 219h1v1h-1zM367 220h1v1h-1zM368 220h1v1h-1zM370 221h1v1h-1zM372 222h1v1h-1zM373 223h1v1h-1zM375 223h1v1h-1zM376 224h1v1h-1zM378 225h1v1h-1zM379 226h1v1h-1zM381 227h1v1h-1zM382 228h1v1h-1zM384 230h1v1h-1zM385 231h1v1h-1zM386 232h1v1h-1zM388 233h1v1h-1zM389 234h1v1h-1zM390 236h1v1h-1zM391 237h1v1h-1zM393 238h1v1h-1zM394 240h1v1h-1zM395 241h1v1h-1zM396 243h1v1h-1zM397 244h1v1h-1zM398 245h1v1h-1zM399 247h1v1h-1zM400 248h1v1h-1zM401 250h1v1h-1zM402 251h1v1h-1zM403 253h1v1h-1zM404 254h1v1h-1zM405 256h1v1h-1zM406 257h1v1h-1zM407 259h1v1h-1zM408 260h1v1h-1zM409 262h1v1h-1zM410 263h1v1h-1zM411 265h1v1h-1zM412 267h1v1h-1zM413 268h1v1h-1zM413 270h1v1h-1zM414 271h1v1h-1zM415 273h1v1h-1zM416 275h1v1h-1zM417 276h1v1h-1zM417 278h1v1h-1zM418 280h1v1h-1zM419 281h1v1h-1zM420 283h1v1h-1zM420 284h1v1h-1zM421 286h1v1h-1zM422 288h1v1h-1zM423 289h1v1h-1zM423 291h1v1h-1z" fill="#9a9a9a" shape-rendering="crispEdges"/></g>
<g><path d="M444.5 176.5H566.5V298.5H444.5Z" fill="none" stroke="#6e6e6e" stroke-width="1"/><text x="437.80" y="180.60" class="yl" textLength="6.0" lengthAdjust="spacingAndGlyphs">1.45</text><text x="437.80" y="187.60" class="yl" textLength="6.0" lengthAdjust="spacingAndGlyphs">1.40</text><text x="437.80" y="194.60" class="yl" textLength="6.0" lengthAdjust="spacingAndGlyphs">1.35</text><text x="437.80" y="200.60" class="yl" textLength="6.0" lengthAdjust="spacingAndGlyphs">1.30</text><text x="437.80" y="207.60" class="yl" textLength="6.0" lengthAdjust="spacingAndGlyphs">1.25</text><text x="437.80" y="214.60" class="yl" textLength="6.0" lengthAdjust="spacingAndGlyphs">1.20</text><text x="437.80" y="221.60" class="yl" textLength="6.0" lengthAdjust="spacingAndGlyphs">1.15</text><text x="437.80" y="228.60" class="yl" textLength="6.0" lengthAdjust="spacingAndGlyphs">1.10</text><text x="437.80" y="235.60" class="yl" textLength="6.0" lengthAdjust="spacingAndGlyphs">1.05</text><text x="437.80" y="242.60" class="yl" textLength="6.0" lengthAdjust="spacingAndGlyphs">1.00</text><text x="437.80" y="248.60" class="yl" textLength="6.0" lengthAdjust="spacingAndGlyphs">.95</text><text x="437.80" y="255.60" class="yl" textLength="6.0" lengthAdjust="spacingAndGlyphs">.90</text><text x="437.80" y="262.60" class="yl" textLength="6.0" lengthAdjust="spacingAndGlyphs">.85</text><text x="437.80" y="269.60" class="yl" textLength="6.0" lengthAdjust="spacingAndGlyphs">.80</text><text x="437.80" y="276.60" class="yl" textLength="6.0" lengthAdjust="spacingAndGlyphs">.75</text><text x="437.80" y="283.60" class="yl" textLength="6.0" lengthAdjust="spacingAndGlyphs">.70</text><text x="437.80" y="290.60" class="yl" textLength="6.0" lengthAdjust="spacingAndGlyphs">.65</text><text x="437.80" y="296.60" class="yl" textLength="6.0" lengthAdjust="spacingAndGlyphs">.60</text><path d="M445 179h2v1h-2zM445 186h2v1h-2zM445 193h2v1h-2zM445 199h2v1h-2zM445 206h2v1h-2zM445 213h2v1h-2zM445 220h2v1h-2zM445 227h2v1h-2zM445 234h2v1h-2zM445 241h2v1h-2zM445 247h2v1h-2zM445 254h2v1h-2zM445 261h2v1h-2zM445 268h2v1h-2zM445 275h2v1h-2zM445 282h2v1h-2zM445 289h2v1h-2zM445 295h2v1h-2zM447 298h1v-1h-1zM453 298h1v-1h-1zM459 298h1v-1h-1zM465 298h1v-1h-1zM470 298h1v-1h-1zM476 298h1v-1h-1zM482 298h1v-1h-1zM488 298h1v-1h-1zM494 298h1v-1h-1zM500 298h1v-1h-1zM506 298h1v-1h-1zM511 298h1v-1h-1zM517 298h1v-1h-1zM523 298h1v-1h-1zM529 298h1v-1h-1zM535 298h1v-1h-1zM541 298h1v-1h-1zM546 298h1v-1h-1zM552 298h1v-1h-1zM558 298h1v-1h-1zM564 298h1v-1h-1z" fill="#8a8a8a" shape-rendering="crispEdges"/><path d="M451 300h4v2h-4zM458 300h2v2h-2zM463 300h4v2h-4zM469 300h2v2h-2zM474 300h4v2h-4zM481 300h2v2h-2zM486 300h4v2h-4zM493 300h2v2h-2zM498 300h4v2h-4zM505 300h2v2h-2zM509 300h4v2h-4zM516 300h2v2h-2zM521 300h4v2h-4zM528 300h2v2h-2zM533 300h4v2h-4zM540 300h2v2h-2zM544 300h4v2h-4zM551 300h2v2h-2zM556 300h4v2h-4zM564 299h1v3h-1z" fill="#111111" shape-rendering="crispEdges"/><path d="M446 299h2v3h-2z" fill="#555555" shape-rendering="crispEdges"/><path d="M452 299h3v1h-3zM458 299h2v1h-2zM464 299h3v1h-3zM469 299h2v1h-2zM475 299h3v1h-3zM481 299h2v1h-2zM487 299h3v1h-3zM493 299h2v1h-2zM499 299h3v1h-3zM505 299h2v1h-2zM510 299h3v1h-3zM516 299h2v1h-2zM522 299h3v1h-3zM528 299h2v1h-2zM534 299h3v1h-3zM540 299h2v1h-2zM545 299h3v1h-3zM551 299h2v1h-2zM557 299h3v1h-3z" fill="#aaaaaa" shape-rendering="crispEdges"/><text x="491.5" y="306.6" font-size="3.8" font-weight="bold" fill="#000" stroke="#000" stroke-width="0.25" textLength="28" lengthAdjust="spacingAndGlyphs">Closed trials density</text><path d="M445 205h1v1h-1zM447 205h1v1h-1zM449 204h1v1h-1zM451 204h1v1h-1zM452 204h1v1h-1zM454 203h1v1h-1zM456 203h1v1h-1zM458 203h1v1h-1zM459 202h1v1h-1zM461 202h1v1h-1zM463 202h1v1h-1zM465 201h1v1h-1zM466 201h1v1h-1zM468 201h1v1h-1zM470 200h1v1h-1zM472 200h1v1h-1zM474 200h1v1h-1zM475 200h1v1h-1zM477 199h1v1h-1zM479 199h1v1h-1zM481 199h1v1h-1zM483 199h1v1h-1zM484 198h1v1h-1zM486 198h1v1h-1zM488 198h1v1h-1zM490 198h1v1h-1zM491 198h1v1h-1zM493 198h1v1h-1zM495 198h1v1h-1zM497 198h1v1h-1zM499 198h1v1h-1zM500 198h1v1h-1zM502 198h1v1h-1zM504 198h1v1h-1zM506 198h1v1h-1zM508 198h1v1h-1zM509 198h1v1h-1zM511 199h1v1h-1zM513 199h1v1h-1zM515 199h1v1h-1zM517 199h1v1h-1zM518 200h1v1h-1zM520 200h1v1h-1zM522 200h1v1h-1zM524 201h1v1h-1zM525 201h1v1h-1zM527 202h1v1h-1zM529 202h1v1h-1zM531 203h1v1h-1zM532 203h1v1h-1zM534 204h1v1h-1zM536 205h1v1h-1zM537 205h1v1h-1zM539 206h1v1h-1zM541 206h1v1h-1zM542 207h1v1h-1zM544 208h1v1h-1zM546 208h1v1h-1zM547 209h1v1h-1zM549 210h1v1h-1zM551 211h1v1h-1zM552 211h1v1h-1zM554 212h1v1h-1zM556 213h1v1h-1zM557 213h1v1h-1zM559 214h1v1h-1zM561 215h1v1h-1zM562 215h1v1h-1z" fill="#9a9a9a" shape-rendering="crispEdges"/><path d="M445.80 225.84 446.30 225.60 446.80 225.36 447.30 225.12 447.80 224.89 448.30 224.66 448.80 224.44 449.30 224.22 449.80 224.00 450.30 223.78 450.80 223.57 451.30 223.36 451.80 223.15 452.30 222.95 452.80 222.75 453.30 222.55 453.80 222.36 454.30 222.16 454.80 221.97 455.30 221.79 455.80 221.61 456.30 221.43 456.80 221.25 457.30 221.08 457.80 220.90 458.30 220.74 458.80 220.57 459.30 220.41 459.80 220.25 460.30 220.09 460.80 219.94 461.30 219.79 461.80 219.64 462.30 219.49 462.80 219.35 463.30 219.21 463.80 219.07 464.30 218.94 464.80 218.80 465.30 218.67 465.80 218.55 466.30 218.42 466.80 218.30 467.30 218.18 467.80 218.06 468.30 217.95 468.80 217.84 469.30 217.73 469.80 217.62 470.30 217.52 470.80 217.42 471.30 217.32 471.80 217.22 472.30 217.12 472.80 217.03 473.30 216.94 473.80 216.85 474.30 216.77 474.80 216.69 475.30 216.61 475.80 216.53 476.30 216.45 476.80 216.38 477.30 216.31 477.80 216.24 478.30 216.17 478.80 216.11 479.30 216.04 479.80 215.98 480.30 215.92 480.80 215.87 481.30 215.81 481.80 215.76 482.30 215.71 482.80 215.66 483.30 215.62 483.80 215.58 484.30 215.53 484.80 215.49 485.30 215.46 485.80 215.42 486.30 215.39 486.80 215.36 487.30 215.33 487.80 215.30 488.30 215.27 488.80 215.25 489.30 215.23 489.80 215.21 490.30 215.19 490.80 215.17 491.30 215.16 491.80 215.15 492.30 215.13 492.80 215.13 493.30 215.12 493.80 215.11 494.30 215.11 494.80 215.11 495.30 215.11 495.80 215.11 496.30 215.11 496.80 215.12 497.30 215.13 497.80 215.13 498.30 215.15 498.80 215.16 499.30 215.17 499.80 215.19 500.30 215.20 500.80 215.22 501.30 215.24 501.80 215.27 502.30 215.29 502.80 215.32 503.30 215.34 503.80 215.37 504.30 215.40 504.80 215.44 505.30 215.47 505.80 215.51 506.30 215.54 506.80 215.58 507.30 215.62 507.80 215.66 508.30 215.71 508.80 215.75 509.30 215.80 509.80 215.85 510.30 215.90 510.80 215.95 511.30 216.01 511.80 216.06 512.30 216.12 512.80 216.18 513.30 216.24 513.80 216.30 514.30 216.36 514.80 216.43 515.30 216.49 515.80 216.56 516.30 216.63 516.80 216.70 517.30 216.77 517.80 216.85 518.30 216.93 518.80 217.00 519.30 217.08 519.80 217.16 520.30 217.25 520.80 217.33 521.30 217.42 521.80 217.51 522.30 217.60 522.80 217.69 523.30 217.78 523.80 217.88 524.30 217.97 524.80 218.07 525.30 218.17 525.80 218.28 526.30 218.38 526.80 218.49 527.30 218.59 527.80 218.70 528.30 218.81 528.80 218.93 529.30 219.04 529.80 219.16 530.30 219.28 530.80 219.40 531.30 219.52 531.80 219.65 532.30 219.78 532.80 219.91 533.30 220.04 533.80 220.17 534.30 220.30 534.80 220.44 535.30 220.58 535.80 220.72 536.30 220.87 536.80 221.01 537.30 221.16 537.80 221.31 538.30 221.46 538.80 221.62 539.30 221.78 539.80 221.94 540.30 222.10 540.80 222.26 541.30 222.43 541.80 222.60 542.30 222.77 542.80 222.95 543.30 223.12 543.80 223.30 544.30 223.49 544.80 223.67 545.30 223.86 545.80 224.05 546.30 224.24 546.80 224.44 547.30 224.64 547.80 224.84 548.30 225.04 548.80 225.25 549.30 225.46 549.80 225.68 550.30 225.89 550.80 226.11 551.30 226.34 551.80 226.56 552.30 226.79 552.80 227.03 553.30 227.26 553.80 227.50 554.30 227.75 554.80 227.99 555.30 228.24 555.80 228.50 556.30 228.75 556.80 229.01 557.30 229.28 557.80 229.55 558.30 229.82 558.80 230.10 559.30 230.38 559.80 230.66 560.30 230.95 560.80 231.24 561.30 231.54 561.80 231.84 562.30 232.14 562.80 232.45 563.30 232.77 563.80 233.09 564.30 233.41" fill="none" stroke="#6a6a6a" stroke-width="1" shape-rendering="crispEdges"/><path d="M445 246h1v1h-1zM447 245h1v1h-1zM448 244h1v1h-1zM449 243h1v1h-1zM451 242h1v1h-1zM452 241h1v1h-1zM454 240h1v1h-1zM455 239h1v1h-1zM457 238h1v1h-1zM459 237h1v1h-1zM460 237h1v1h-1zM462 236h1v1h-1zM464 235h1v1h-1zM465 235h1v1h-1zM467 234h1v1h-1zM469 234h1v1h-1zM470 233h1v1h-1zM472 233h1v1h-1zM474 233h1v1h-1zM476 232h1v1h-1zM478 232h1v1h-1zM479 232h1v1h-1zM481 232h1v1h-1zM483 232h1v1h-1zM485 231h1v1h-1zM487 231h1v1h-1zM488 231h1v1h-1zM490 231h1v1h-1zM492 231h1v1h-1zM494 231h1v1h-1zM496 231h1v1h-1zM497 231h1v1h-1zM499 232h1v1h-1zM501 232h1v1h-1zM503 232h1v1h-1zM505 232h1v1h-1zM506 232h1v1h-1zM508 232h1v1h-1zM510 232h1v1h-1zM512 232h1v1h-1zM513 233h1v1h-1zM515 233h1v1h-1zM517 233h1v1h-1zM519 233h1v1h-1zM521 234h1v1h-1zM522 234h1v1h-1zM524 234h1v1h-1zM526 234h1v1h-1zM528 235h1v1h-1zM530 235h1v1h-1zM531 235h1v1h-1zM533 236h1v1h-1zM535 236h1v1h-1zM537 237h1v1h-1zM538 237h1v1h-1zM540 238h1v1h-1zM542 238h1v1h-1zM543 239h1v1h-1zM545 239h1v1h-1zM547 240h1v1h-1zM548 241h1v1h-1zM550 242h1v1h-1zM552 242h1v1h-1zM553 243h1v1h-1zM555 244h1v1h-1zM556 245h1v1h-1zM558 246h1v1h-1zM560 247h1v1h-1zM561 248h1v1h-1zM562 249h1v1h-1z" fill="#9a9a9a" shape-rendering="crispEdges"/></g>
</svg></body></html>
